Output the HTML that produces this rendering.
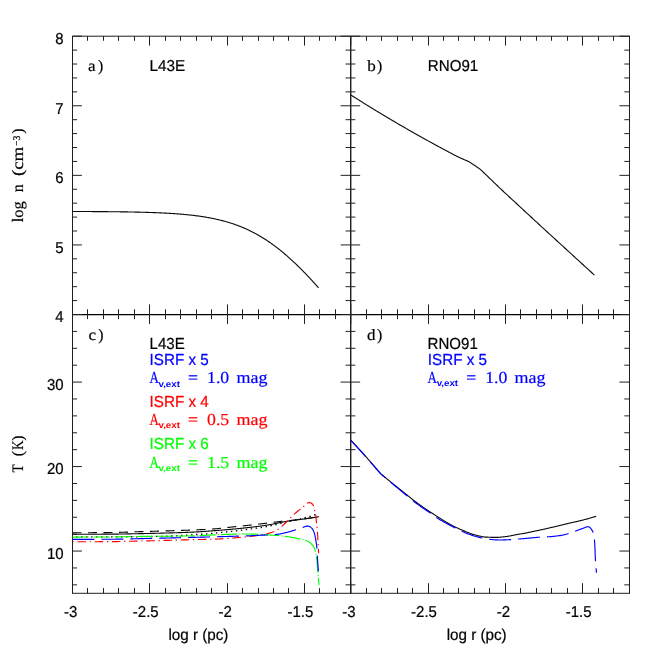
<!DOCTYPE html>
<html><head><meta charset="utf-8"><title>L43E / RNO91 density and temperature profiles</title>
<style>
html,body{margin:0;padding:0;background:#fff;}
body{width:664px;height:664px;overflow:hidden;font-family:"Liberation Sans",sans-serif;}
svg{display:block;will-change:transform;}
</style></head><body>
<svg width="664" height="664" viewBox="0 0 664 664" text-rendering="geometricPrecision">
<g stroke="#202020" stroke-width="1" fill="none" stroke-linecap="butt">
<rect x="72.5" y="36.2" width="557.0" height="557.0999999999999"/>
<line x1="350.75" y1="36.20" x2="350.75" y2="593.30" stroke="#000" stroke-width="1.25"/>
<line x1="72.50" y1="314.50" x2="629.50" y2="314.50" stroke="#000" stroke-width="1.25"/>
<line x1="72.50" y1="36.20" x2="72.50" y2="45.60"/>
<line x1="72.50" y1="304.40" x2="72.50" y2="323.90"/>
<line x1="72.50" y1="583.20" x2="72.50" y2="593.30"/>
<line x1="87.50" y1="36.20" x2="87.50" y2="40.80"/>
<line x1="87.50" y1="309.30" x2="87.50" y2="319.10"/>
<line x1="87.50" y1="588.10" x2="87.50" y2="593.30"/>
<line x1="103.50" y1="36.20" x2="103.50" y2="40.80"/>
<line x1="103.50" y1="309.30" x2="103.50" y2="319.10"/>
<line x1="103.50" y1="588.10" x2="103.50" y2="593.30"/>
<line x1="118.50" y1="36.20" x2="118.50" y2="40.80"/>
<line x1="118.50" y1="309.30" x2="118.50" y2="319.10"/>
<line x1="118.50" y1="588.10" x2="118.50" y2="593.30"/>
<line x1="134.50" y1="36.20" x2="134.50" y2="40.80"/>
<line x1="134.50" y1="309.30" x2="134.50" y2="319.10"/>
<line x1="134.50" y1="588.10" x2="134.50" y2="593.30"/>
<line x1="149.50" y1="36.20" x2="149.50" y2="45.60"/>
<line x1="149.50" y1="304.40" x2="149.50" y2="323.90"/>
<line x1="149.50" y1="583.20" x2="149.50" y2="593.30"/>
<line x1="165.50" y1="36.20" x2="165.50" y2="40.80"/>
<line x1="165.50" y1="309.30" x2="165.50" y2="319.10"/>
<line x1="165.50" y1="588.10" x2="165.50" y2="593.30"/>
<line x1="180.50" y1="36.20" x2="180.50" y2="40.80"/>
<line x1="180.50" y1="309.30" x2="180.50" y2="319.10"/>
<line x1="180.50" y1="588.10" x2="180.50" y2="593.30"/>
<line x1="196.50" y1="36.20" x2="196.50" y2="40.80"/>
<line x1="196.50" y1="309.30" x2="196.50" y2="319.10"/>
<line x1="196.50" y1="588.10" x2="196.50" y2="593.30"/>
<line x1="211.50" y1="36.20" x2="211.50" y2="40.80"/>
<line x1="211.50" y1="309.30" x2="211.50" y2="319.10"/>
<line x1="211.50" y1="588.10" x2="211.50" y2="593.30"/>
<line x1="227.50" y1="36.20" x2="227.50" y2="45.60"/>
<line x1="227.50" y1="304.40" x2="227.50" y2="323.90"/>
<line x1="227.50" y1="583.20" x2="227.50" y2="593.30"/>
<line x1="242.50" y1="36.20" x2="242.50" y2="40.80"/>
<line x1="242.50" y1="309.30" x2="242.50" y2="319.10"/>
<line x1="242.50" y1="588.10" x2="242.50" y2="593.30"/>
<line x1="258.50" y1="36.20" x2="258.50" y2="40.80"/>
<line x1="258.50" y1="309.30" x2="258.50" y2="319.10"/>
<line x1="258.50" y1="588.10" x2="258.50" y2="593.30"/>
<line x1="273.50" y1="36.20" x2="273.50" y2="40.80"/>
<line x1="273.50" y1="309.30" x2="273.50" y2="319.10"/>
<line x1="273.50" y1="588.10" x2="273.50" y2="593.30"/>
<line x1="288.50" y1="36.20" x2="288.50" y2="40.80"/>
<line x1="288.50" y1="309.30" x2="288.50" y2="319.10"/>
<line x1="288.50" y1="588.10" x2="288.50" y2="593.30"/>
<line x1="304.50" y1="36.20" x2="304.50" y2="45.60"/>
<line x1="304.50" y1="304.40" x2="304.50" y2="323.90"/>
<line x1="304.50" y1="583.20" x2="304.50" y2="593.30"/>
<line x1="319.50" y1="36.20" x2="319.50" y2="40.80"/>
<line x1="319.50" y1="309.30" x2="319.50" y2="319.10"/>
<line x1="319.50" y1="588.10" x2="319.50" y2="593.30"/>
<line x1="335.50" y1="36.20" x2="335.50" y2="40.80"/>
<line x1="335.50" y1="309.30" x2="335.50" y2="319.10"/>
<line x1="335.50" y1="588.10" x2="335.50" y2="593.30"/>
<line x1="350.50" y1="36.20" x2="350.50" y2="40.80"/>
<line x1="350.50" y1="309.30" x2="350.50" y2="319.10"/>
<line x1="350.50" y1="588.10" x2="350.50" y2="593.30"/>
<line x1="350.75" y1="36.20" x2="350.75" y2="45.60"/>
<line x1="350.75" y1="304.40" x2="350.75" y2="323.90"/>
<line x1="350.75" y1="583.20" x2="350.75" y2="593.30"/>
<line x1="366.50" y1="36.20" x2="366.50" y2="40.80"/>
<line x1="366.50" y1="309.30" x2="366.50" y2="319.10"/>
<line x1="366.50" y1="588.10" x2="366.50" y2="593.30"/>
<line x1="381.50" y1="36.20" x2="381.50" y2="40.80"/>
<line x1="381.50" y1="309.30" x2="381.50" y2="319.10"/>
<line x1="381.50" y1="588.10" x2="381.50" y2="593.30"/>
<line x1="397.50" y1="36.20" x2="397.50" y2="40.80"/>
<line x1="397.50" y1="309.30" x2="397.50" y2="319.10"/>
<line x1="397.50" y1="588.10" x2="397.50" y2="593.30"/>
<line x1="412.50" y1="36.20" x2="412.50" y2="40.80"/>
<line x1="412.50" y1="309.30" x2="412.50" y2="319.10"/>
<line x1="412.50" y1="588.10" x2="412.50" y2="593.30"/>
<line x1="428.50" y1="36.20" x2="428.50" y2="45.60"/>
<line x1="428.50" y1="304.40" x2="428.50" y2="323.90"/>
<line x1="428.50" y1="583.20" x2="428.50" y2="593.30"/>
<line x1="443.50" y1="36.20" x2="443.50" y2="40.80"/>
<line x1="443.50" y1="309.30" x2="443.50" y2="319.10"/>
<line x1="443.50" y1="588.10" x2="443.50" y2="593.30"/>
<line x1="458.50" y1="36.20" x2="458.50" y2="40.80"/>
<line x1="458.50" y1="309.30" x2="458.50" y2="319.10"/>
<line x1="458.50" y1="588.10" x2="458.50" y2="593.30"/>
<line x1="474.50" y1="36.20" x2="474.50" y2="40.80"/>
<line x1="474.50" y1="309.30" x2="474.50" y2="319.10"/>
<line x1="474.50" y1="588.10" x2="474.50" y2="593.30"/>
<line x1="489.50" y1="36.20" x2="489.50" y2="40.80"/>
<line x1="489.50" y1="309.30" x2="489.50" y2="319.10"/>
<line x1="489.50" y1="588.10" x2="489.50" y2="593.30"/>
<line x1="505.50" y1="36.20" x2="505.50" y2="45.60"/>
<line x1="505.50" y1="304.40" x2="505.50" y2="323.90"/>
<line x1="505.50" y1="583.20" x2="505.50" y2="593.30"/>
<line x1="520.50" y1="36.20" x2="520.50" y2="40.80"/>
<line x1="520.50" y1="309.30" x2="520.50" y2="319.10"/>
<line x1="520.50" y1="588.10" x2="520.50" y2="593.30"/>
<line x1="536.50" y1="36.20" x2="536.50" y2="40.80"/>
<line x1="536.50" y1="309.30" x2="536.50" y2="319.10"/>
<line x1="536.50" y1="588.10" x2="536.50" y2="593.30"/>
<line x1="551.50" y1="36.20" x2="551.50" y2="40.80"/>
<line x1="551.50" y1="309.30" x2="551.50" y2="319.10"/>
<line x1="551.50" y1="588.10" x2="551.50" y2="593.30"/>
<line x1="567.50" y1="36.20" x2="567.50" y2="40.80"/>
<line x1="567.50" y1="309.30" x2="567.50" y2="319.10"/>
<line x1="567.50" y1="588.10" x2="567.50" y2="593.30"/>
<line x1="582.50" y1="36.20" x2="582.50" y2="45.60"/>
<line x1="582.50" y1="304.40" x2="582.50" y2="323.90"/>
<line x1="582.50" y1="583.20" x2="582.50" y2="593.30"/>
<line x1="598.50" y1="36.20" x2="598.50" y2="40.80"/>
<line x1="598.50" y1="309.30" x2="598.50" y2="319.10"/>
<line x1="598.50" y1="588.10" x2="598.50" y2="593.30"/>
<line x1="613.50" y1="36.20" x2="613.50" y2="40.80"/>
<line x1="613.50" y1="309.30" x2="613.50" y2="319.10"/>
<line x1="613.50" y1="588.10" x2="613.50" y2="593.30"/>
<line x1="629.50" y1="36.20" x2="629.50" y2="40.80"/>
<line x1="629.50" y1="309.30" x2="629.50" y2="319.10"/>
<line x1="629.50" y1="588.10" x2="629.50" y2="593.30"/>
<line x1="72.50" y1="314.50" x2="81.90" y2="314.50"/>
<line x1="340.65" y1="314.50" x2="360.15" y2="314.50"/>
<line x1="619.40" y1="314.50" x2="629.50" y2="314.50"/>
<line x1="72.50" y1="300.58" x2="77.10" y2="300.58"/>
<line x1="345.55" y1="300.58" x2="355.35" y2="300.58"/>
<line x1="624.30" y1="300.58" x2="629.50" y2="300.58"/>
<line x1="72.50" y1="286.67" x2="77.10" y2="286.67"/>
<line x1="345.55" y1="286.67" x2="355.35" y2="286.67"/>
<line x1="624.30" y1="286.67" x2="629.50" y2="286.67"/>
<line x1="72.50" y1="272.75" x2="77.10" y2="272.75"/>
<line x1="345.55" y1="272.75" x2="355.35" y2="272.75"/>
<line x1="624.30" y1="272.75" x2="629.50" y2="272.75"/>
<line x1="72.50" y1="258.84" x2="77.10" y2="258.84"/>
<line x1="345.55" y1="258.84" x2="355.35" y2="258.84"/>
<line x1="624.30" y1="258.84" x2="629.50" y2="258.84"/>
<line x1="72.50" y1="244.93" x2="81.90" y2="244.93"/>
<line x1="340.65" y1="244.93" x2="360.15" y2="244.93"/>
<line x1="619.40" y1="244.93" x2="629.50" y2="244.93"/>
<line x1="72.50" y1="231.01" x2="77.10" y2="231.01"/>
<line x1="345.55" y1="231.01" x2="355.35" y2="231.01"/>
<line x1="624.30" y1="231.01" x2="629.50" y2="231.01"/>
<line x1="72.50" y1="217.09" x2="77.10" y2="217.09"/>
<line x1="345.55" y1="217.09" x2="355.35" y2="217.09"/>
<line x1="624.30" y1="217.09" x2="629.50" y2="217.09"/>
<line x1="72.50" y1="203.18" x2="77.10" y2="203.18"/>
<line x1="345.55" y1="203.18" x2="355.35" y2="203.18"/>
<line x1="624.30" y1="203.18" x2="629.50" y2="203.18"/>
<line x1="72.50" y1="189.26" x2="77.10" y2="189.26"/>
<line x1="345.55" y1="189.26" x2="355.35" y2="189.26"/>
<line x1="624.30" y1="189.26" x2="629.50" y2="189.26"/>
<line x1="72.50" y1="175.35" x2="81.90" y2="175.35"/>
<line x1="340.65" y1="175.35" x2="360.15" y2="175.35"/>
<line x1="619.40" y1="175.35" x2="629.50" y2="175.35"/>
<line x1="72.50" y1="161.43" x2="77.10" y2="161.43"/>
<line x1="345.55" y1="161.43" x2="355.35" y2="161.43"/>
<line x1="624.30" y1="161.43" x2="629.50" y2="161.43"/>
<line x1="72.50" y1="147.52" x2="77.10" y2="147.52"/>
<line x1="345.55" y1="147.52" x2="355.35" y2="147.52"/>
<line x1="624.30" y1="147.52" x2="629.50" y2="147.52"/>
<line x1="72.50" y1="133.60" x2="77.10" y2="133.60"/>
<line x1="345.55" y1="133.60" x2="355.35" y2="133.60"/>
<line x1="624.30" y1="133.60" x2="629.50" y2="133.60"/>
<line x1="72.50" y1="119.69" x2="77.10" y2="119.69"/>
<line x1="345.55" y1="119.69" x2="355.35" y2="119.69"/>
<line x1="624.30" y1="119.69" x2="629.50" y2="119.69"/>
<line x1="72.50" y1="105.77" x2="81.90" y2="105.77"/>
<line x1="340.65" y1="105.77" x2="360.15" y2="105.77"/>
<line x1="619.40" y1="105.77" x2="629.50" y2="105.77"/>
<line x1="72.50" y1="91.86" x2="77.10" y2="91.86"/>
<line x1="345.55" y1="91.86" x2="355.35" y2="91.86"/>
<line x1="624.30" y1="91.86" x2="629.50" y2="91.86"/>
<line x1="72.50" y1="77.94" x2="77.10" y2="77.94"/>
<line x1="345.55" y1="77.94" x2="355.35" y2="77.94"/>
<line x1="624.30" y1="77.94" x2="629.50" y2="77.94"/>
<line x1="72.50" y1="64.03" x2="77.10" y2="64.03"/>
<line x1="345.55" y1="64.03" x2="355.35" y2="64.03"/>
<line x1="624.30" y1="64.03" x2="629.50" y2="64.03"/>
<line x1="72.50" y1="50.11" x2="77.10" y2="50.11"/>
<line x1="345.55" y1="50.11" x2="355.35" y2="50.11"/>
<line x1="624.30" y1="50.11" x2="629.50" y2="50.11"/>
<line x1="72.50" y1="36.20" x2="81.90" y2="36.20"/>
<line x1="340.65" y1="36.20" x2="360.15" y2="36.20"/>
<line x1="619.40" y1="36.20" x2="629.50" y2="36.20"/>
<line x1="72.50" y1="584.85" x2="77.10" y2="584.85"/>
<line x1="345.55" y1="584.85" x2="355.35" y2="584.85"/>
<line x1="624.30" y1="584.85" x2="629.50" y2="584.85"/>
<line x1="72.50" y1="567.95" x2="77.10" y2="567.95"/>
<line x1="345.55" y1="567.95" x2="355.35" y2="567.95"/>
<line x1="624.30" y1="567.95" x2="629.50" y2="567.95"/>
<line x1="72.50" y1="551.06" x2="81.90" y2="551.06"/>
<line x1="340.65" y1="551.06" x2="360.15" y2="551.06"/>
<line x1="619.40" y1="551.06" x2="629.50" y2="551.06"/>
<line x1="72.50" y1="534.16" x2="77.10" y2="534.16"/>
<line x1="345.55" y1="534.16" x2="355.35" y2="534.16"/>
<line x1="624.30" y1="534.16" x2="629.50" y2="534.16"/>
<line x1="72.50" y1="517.26" x2="77.10" y2="517.26"/>
<line x1="345.55" y1="517.26" x2="355.35" y2="517.26"/>
<line x1="624.30" y1="517.26" x2="629.50" y2="517.26"/>
<line x1="72.50" y1="500.37" x2="77.10" y2="500.37"/>
<line x1="345.55" y1="500.37" x2="355.35" y2="500.37"/>
<line x1="624.30" y1="500.37" x2="629.50" y2="500.37"/>
<line x1="72.50" y1="483.47" x2="77.10" y2="483.47"/>
<line x1="345.55" y1="483.47" x2="355.35" y2="483.47"/>
<line x1="624.30" y1="483.47" x2="629.50" y2="483.47"/>
<line x1="72.50" y1="466.57" x2="81.90" y2="466.57"/>
<line x1="340.65" y1="466.57" x2="360.15" y2="466.57"/>
<line x1="619.40" y1="466.57" x2="629.50" y2="466.57"/>
<line x1="72.50" y1="449.68" x2="77.10" y2="449.68"/>
<line x1="345.55" y1="449.68" x2="355.35" y2="449.68"/>
<line x1="624.30" y1="449.68" x2="629.50" y2="449.68"/>
<line x1="72.50" y1="432.78" x2="77.10" y2="432.78"/>
<line x1="345.55" y1="432.78" x2="355.35" y2="432.78"/>
<line x1="624.30" y1="432.78" x2="629.50" y2="432.78"/>
<line x1="72.50" y1="415.88" x2="77.10" y2="415.88"/>
<line x1="345.55" y1="415.88" x2="355.35" y2="415.88"/>
<line x1="624.30" y1="415.88" x2="629.50" y2="415.88"/>
<line x1="72.50" y1="398.98" x2="77.10" y2="398.98"/>
<line x1="345.55" y1="398.98" x2="355.35" y2="398.98"/>
<line x1="624.30" y1="398.98" x2="629.50" y2="398.98"/>
<line x1="72.50" y1="382.09" x2="81.90" y2="382.09"/>
<line x1="340.65" y1="382.09" x2="360.15" y2="382.09"/>
<line x1="619.40" y1="382.09" x2="629.50" y2="382.09"/>
<line x1="72.50" y1="365.19" x2="77.10" y2="365.19"/>
<line x1="345.55" y1="365.19" x2="355.35" y2="365.19"/>
<line x1="624.30" y1="365.19" x2="629.50" y2="365.19"/>
<line x1="72.50" y1="348.29" x2="77.10" y2="348.29"/>
<line x1="345.55" y1="348.29" x2="355.35" y2="348.29"/>
<line x1="624.30" y1="348.29" x2="629.50" y2="348.29"/>
<line x1="72.50" y1="331.40" x2="77.10" y2="331.40"/>
<line x1="345.55" y1="331.40" x2="355.35" y2="331.40"/>
<line x1="624.30" y1="331.40" x2="629.50" y2="331.40"/>
<line x1="72.50" y1="314.50" x2="77.10" y2="314.50"/>
<line x1="345.55" y1="314.50" x2="355.35" y2="314.50"/>
<line x1="624.30" y1="314.50" x2="629.50" y2="314.50"/>
</g>
<path d="M72.50,211.49 L73.32,211.49 L74.15,211.49 L74.97,211.49 L75.79,211.50 L76.61,211.50 L77.44,211.50 L78.26,211.51 L79.08,211.51 L79.91,211.51 L80.73,211.51 L81.55,211.52 L82.37,211.52 L83.20,211.52 L84.02,211.53 L84.84,211.53 L85.66,211.54 L86.49,211.54 L87.31,211.54 L88.13,211.55 L88.96,211.55 L89.78,211.56 L90.60,211.56 L91.42,211.56 L92.25,211.57 L93.07,211.57 L93.89,211.58 L94.72,211.58 L95.54,211.59 L96.36,211.59 L97.18,211.60 L98.01,211.60 L98.83,211.61 L99.65,211.62 L100.48,211.62 L101.30,211.63 L102.12,211.63 L102.94,211.64 L103.77,211.65 L104.59,211.65 L105.41,211.66 L106.24,211.67 L107.06,211.68 L107.88,211.68 L108.70,211.69 L109.53,211.70 L110.35,211.71 L111.17,211.71 L111.99,211.72 L112.82,211.73 L113.64,211.74 L114.46,211.75 L115.29,211.76 L116.11,211.77 L116.93,211.78 L117.75,211.79 L118.58,211.80 L119.40,211.81 L120.22,211.82 L121.05,211.83 L121.87,211.84 L122.69,211.85 L123.51,211.87 L124.34,211.88 L125.16,211.89 L125.98,211.90 L126.81,211.92 L127.63,211.93 L128.45,211.94 L129.27,211.96 L130.10,211.97 L130.92,211.99 L131.74,212.00 L132.56,212.02 L133.39,212.04 L134.21,212.05 L135.03,212.07 L135.86,212.09 L136.68,212.11 L137.50,212.12 L138.32,212.14 L139.15,212.16 L139.97,212.18 L140.79,212.20 L141.62,212.22 L142.44,212.24 L143.26,212.27 L144.08,212.29 L144.91,212.31 L145.73,212.34 L146.55,212.36 L147.38,212.39 L148.20,212.41 L149.02,212.44 L149.84,212.46 L150.67,212.49 L151.49,212.52 L152.31,212.55 L153.14,212.58 L153.96,212.61 L154.78,212.64 L155.60,212.67 L156.43,212.70 L157.25,212.74 L158.07,212.77 L158.89,212.81 L159.72,212.84 L160.54,212.88 L161.36,212.92 L162.19,212.96 L163.01,213.00 L163.83,213.04 L164.65,213.08 L165.48,213.12 L166.30,213.17 L167.12,213.21 L167.95,213.26 L168.77,213.30 L169.59,213.35 L170.41,213.40 L171.24,213.45 L172.06,213.51 L172.88,213.56 L173.71,213.61 L174.53,213.67 L175.35,213.73 L176.17,213.79 L177.00,213.85 L177.82,213.91 L178.64,213.97 L179.46,214.04 L180.29,214.10 L181.11,214.17 L181.93,214.24 L182.76,214.31 L183.58,214.39 L184.40,214.46 L185.22,214.54 L186.05,214.62 L186.87,214.70 L187.69,214.78 L188.52,214.86 L189.34,214.95 L190.16,215.04 L190.98,215.13 L191.81,215.22 L192.63,215.31 L193.45,215.41 L194.28,215.51 L195.10,215.61 L195.92,215.72 L196.74,215.82 L197.57,215.93 L198.39,216.04 L199.21,216.16 L200.04,216.27 L200.86,216.39 L201.68,216.52 L202.50,216.64 L203.33,216.77 L204.15,216.90 L204.97,217.03 L205.79,217.17 L206.62,217.31 L207.44,217.45 L208.26,217.60 L209.09,217.75 L209.91,217.90 L210.73,218.06 L211.55,218.22 L212.38,218.38 L213.20,218.55 L214.02,218.72 L214.85,218.89 L215.67,219.07 L216.49,219.25 L217.31,219.44 L218.14,219.63 L218.96,219.82 L219.78,220.02 L220.61,220.22 L221.43,220.43 L222.25,220.64 L223.07,220.85 L223.90,221.07 L224.72,221.30 L225.54,221.53 L226.36,221.76 L227.19,222.00 L228.01,222.24 L228.83,222.49 L229.66,222.74 L230.48,223.00 L231.30,223.27 L232.12,223.53 L232.95,223.81 L233.77,224.09 L234.59,224.37 L235.42,224.66 L236.24,224.96 L237.06,225.26 L237.88,225.56 L238.71,225.88 L239.53,226.20 L240.35,226.52 L241.18,226.85 L242.00,227.19 L242.82,227.53 L243.64,227.88 L244.47,228.23 L245.29,228.59 L246.11,228.96 L246.94,229.33 L247.76,229.71 L248.58,230.10 L249.40,230.49 L250.23,230.89 L251.05,231.30 L251.87,231.71 L252.69,232.13 L253.52,232.56 L254.34,232.99 L255.16,233.43 L255.99,233.87 L256.81,234.33 L257.63,234.79 L258.45,235.26 L259.28,235.73 L260.10,236.21 L260.92,236.70 L261.75,237.20 L262.57,237.70 L263.39,238.21 L264.21,238.73 L265.04,239.25 L265.86,239.78 L266.68,240.32 L267.51,240.87 L268.33,241.42 L269.15,241.98 L269.97,242.55 L270.80,243.13 L271.62,243.71 L272.44,244.30 L273.26,244.89 L274.09,245.50 L274.91,246.11 L275.73,246.73 L276.56,247.35 L277.38,247.99 L278.20,248.63 L279.02,249.27 L279.85,249.93 L280.67,250.59 L281.49,251.26 L282.32,251.93 L283.14,252.61 L283.96,253.30 L284.78,254.00 L285.61,254.70 L286.43,255.41 L287.25,256.13 L288.08,256.85 L288.90,257.58 L289.72,258.31 L290.54,259.06 L291.37,259.81 L292.19,260.56 L293.01,261.32 L293.84,262.09 L294.66,262.87 L295.48,263.65 L296.30,264.44 L297.13,265.23 L297.95,266.03 L298.77,266.83 L299.59,267.64 L300.42,268.46 L301.24,269.28 L302.06,270.11 L302.89,270.95 L303.71,271.79 L304.53,272.63 L305.35,273.48 L306.18,274.34 L307.00,275.20 L307.82,276.07 L308.65,276.94 L309.47,277.82 L310.29,278.70 L311.11,279.59 L311.94,280.48 L312.76,281.38 L313.58,282.28 L314.41,283.18 L315.23,284.09 L316.05,285.01 L316.87,285.93 L317.70,286.85 L318.52,287.78" stroke="#0a0a0a" stroke-width="1.12" fill="none" stroke-linejoin="round"/>
<path d="M350.80,94.95 L351.45,95.36 L352.09,95.77 L352.74,96.18 L353.38,96.59 L354.03,97.00 L354.67,97.41 L355.32,97.82 L355.97,98.23 L356.61,98.63 L357.26,99.04 L357.91,99.45 L358.55,99.85 L359.20,100.26 L359.85,100.67 L360.50,101.07 L361.15,101.48 L361.79,101.88 L362.44,102.29 L363.09,102.69 L363.74,103.10 L364.39,103.50 L365.04,103.90 L365.69,104.31 L366.34,104.71 L366.99,105.11 L367.64,105.51 L368.29,105.92 L368.94,106.32 L369.59,106.72 L370.24,107.12 L370.89,107.52 L371.55,107.92 L372.20,108.32 L372.85,108.72 L373.50,109.12 L374.15,109.52 L374.81,109.92 L375.46,110.31 L376.11,110.71 L376.77,111.11 L377.42,111.51 L378.07,111.90 L378.73,112.30 L379.38,112.70 L380.03,113.09 L380.69,113.49 L381.34,113.88 L382.00,114.28 L382.65,114.67 L383.31,115.06 L383.96,115.46 L384.62,115.85 L385.28,116.24 L385.93,116.64 L386.59,117.03 L387.24,117.42 L387.90,117.81 L388.56,118.20 L389.22,118.59 L389.87,118.98 L390.53,119.37 L391.19,119.76 L391.85,120.15 L392.50,120.54 L393.16,120.93 L393.82,121.32 L394.48,121.71 L395.14,122.09 L395.80,122.48 L396.46,122.87 L397.12,123.25 L397.78,123.64 L398.44,124.03 L399.10,124.41 L399.76,124.80 L400.42,125.18 L401.08,125.56 L401.74,125.95 L402.41,126.33 L403.07,126.72 L403.73,127.10 L404.39,127.48 L405.05,127.86 L405.72,128.24 L406.38,128.63 L407.04,129.01 L407.70,129.39 L408.37,129.77 L409.03,130.15 L409.70,130.53 L410.36,130.90 L411.02,131.28 L411.69,131.66 L412.35,132.04 L413.02,132.42 L413.68,132.79 L414.35,133.17 L415.01,133.55 L415.68,133.92 L416.35,134.30 L417.01,134.67 L417.68,135.05 L418.34,135.42 L419.01,135.80 L419.68,136.17 L420.35,136.55 L421.01,136.92 L421.68,137.29 L422.35,137.66 L423.02,138.04 L423.68,138.41 L424.35,138.78 L425.02,139.15 L425.69,139.52 L426.36,139.89 L427.03,140.26 L427.70,140.63 L428.37,141.00 L429.04,141.37 L429.71,141.74 L430.38,142.11 L431.05,142.47 L431.72,142.84 L432.39,143.21 L433.06,143.58 L433.73,143.95 L434.40,144.31 L435.07,144.68 L435.74,145.04 L436.41,145.41 L437.08,145.78 L437.76,146.14 L438.43,146.51 L439.10,146.87 L439.77,147.23 L440.45,147.60 L441.12,147.96 L441.79,148.32 L442.47,148.68 L443.14,149.04 L443.81,149.40 L444.49,149.76 L445.16,150.12 L445.84,150.48 L446.51,150.84 L447.19,151.20 L447.87,151.55 L448.54,151.91 L449.22,152.27 L449.89,152.63 L450.57,152.99 L451.24,153.35 L451.92,153.71 L452.60,154.07 L453.27,154.42 L453.95,154.78 L454.63,155.13 L455.31,155.48 L455.99,155.83 L456.67,156.18 L457.35,156.52 L458.04,156.86 L458.73,157.19 L459.41,157.52 L460.10,157.85 L460.80,158.17 L461.50,158.48 L462.20,158.78 L462.90,159.08 L463.61,159.38 L464.31,159.67 L465.02,159.97 L465.72,160.27 L466.42,160.57 L467.12,160.88 L467.82,161.19 L468.52,161.51 L469.20,161.86 L469.84,162.27 L470.48,162.69 L471.12,163.11 L471.76,163.53 L472.40,163.95 L473.03,164.38 L473.67,164.80 L474.30,165.23 L474.94,165.66 L475.57,166.08 L476.20,166.51 L476.84,166.94 L477.47,167.37 L478.10,167.80 L478.74,168.22 L479.39,168.63 L480.00,169.08 L480.57,169.59 L481.12,170.13 L481.67,170.66 L482.23,171.18 L482.78,171.71 L483.34,172.23 L483.89,172.76 L484.44,173.29 L484.99,173.82 L485.55,174.35 L486.10,174.88 L486.65,175.41 L487.20,175.94 L487.75,176.47 L488.30,177.00 L488.85,177.53 L489.40,178.06 L489.95,178.60 L490.50,179.13 L491.05,179.66 L491.60,180.19 L492.15,180.72 L492.70,181.25 L493.25,181.79 L493.80,182.32 L494.35,182.85 L494.90,183.38 L495.45,183.91 L496.00,184.44 L496.55,184.97 L497.10,185.50 L497.66,186.02 L498.21,186.55 L498.76,187.08 L499.32,187.60 L499.87,188.13 L500.43,188.65 L500.99,189.18 L501.54,189.70 L502.10,190.23 L502.66,190.75 L503.22,191.27 L503.78,191.79 L504.33,192.31 L504.89,192.84 L505.45,193.36 L506.01,193.88 L506.57,194.40 L507.13,194.92 L507.70,195.44 L508.26,195.96 L508.82,196.48 L509.38,196.99 L509.94,197.51 L510.50,198.03 L511.06,198.55 L511.63,199.07 L512.19,199.59 L512.75,200.11 L513.31,200.62 L513.87,201.14 L514.44,201.66 L515.00,202.18 L515.56,202.70 L516.12,203.22 L516.68,203.73 L517.25,204.25 L517.81,204.77 L518.37,205.29 L518.93,205.81 L519.49,206.33 L520.05,206.85 L520.61,207.37 L521.17,207.89 L521.74,208.41 L522.30,208.93 L522.86,209.45 L523.42,209.97 L523.98,210.49 L524.54,211.01 L525.10,211.53 L525.66,212.05 L526.22,212.57 L526.78,213.09 L527.34,213.60 L527.90,214.12 L528.47,214.64 L529.03,215.16 L529.59,215.68 L530.15,216.20 L530.71,216.72 L531.27,217.24 L531.83,217.76 L532.39,218.28 L532.95,218.80 L533.52,219.32 L534.08,219.84 L534.64,220.36 L535.20,220.88 L535.76,221.39 L536.32,221.91 L536.89,222.43 L537.45,222.95 L538.01,223.47 L538.57,223.99 L539.13,224.50 L539.70,225.02 L540.26,225.54 L540.82,226.06 L541.39,226.57 L541.95,227.09 L542.51,227.61 L543.08,228.12 L543.64,228.64 L544.20,229.16 L544.77,229.67 L545.33,230.19 L545.89,230.71 L546.46,231.22 L547.02,231.74 L547.59,232.26 L548.15,232.77 L548.71,233.29 L549.28,233.80 L549.84,234.32 L550.41,234.83 L550.97,235.35 L551.54,235.87 L552.10,236.38 L552.67,236.90 L553.23,237.41 L553.79,237.93 L554.36,238.44 L554.92,238.96 L555.49,239.48 L556.05,239.99 L556.62,240.51 L557.18,241.02 L557.75,241.54 L558.31,242.05 L558.87,242.57 L559.44,243.09 L560.00,243.60 L560.57,244.12 L561.13,244.64 L561.70,245.15 L562.26,245.67 L562.82,246.18 L563.39,246.70 L563.95,247.22 L564.52,247.73 L565.08,248.25 L565.64,248.76 L566.21,249.28 L566.77,249.80 L567.34,250.31 L567.90,250.83 L568.47,251.34 L569.03,251.86 L569.59,252.38 L570.16,252.89 L570.72,253.41 L571.29,253.92 L571.85,254.44 L572.41,254.96 L572.98,255.47 L573.54,255.99 L574.11,256.50 L574.67,257.02 L575.23,257.54 L575.80,258.05 L576.36,258.57 L576.93,259.09 L577.49,259.60 L578.05,260.12 L578.62,260.63 L579.18,261.15 L579.75,261.67 L580.31,262.18 L580.87,262.70 L581.44,263.22 L582.00,263.73 L582.56,264.25 L583.13,264.77 L583.69,265.28 L584.26,265.80 L584.82,266.32 L585.38,266.83 L585.95,267.35 L586.51,267.87 L587.07,268.38 L587.64,268.90 L588.20,269.42 L588.77,269.93 L589.33,270.45 L589.89,270.97 L590.46,271.48 L591.02,272.00 L591.58,272.52 L592.15,273.03 L592.71,273.55 L593.27,274.07 L593.84,274.58 L594.40,275.10" stroke="#0a0a0a" stroke-width="1.12" fill="none" stroke-linejoin="round"/>
<path d="M72.50,534.25 L73.12,534.25 L73.74,534.25 L74.36,534.25 L74.98,534.25 L75.60,534.25 L76.22,534.25 L76.84,534.25 L77.46,534.25 L78.08,534.25 L78.70,534.25 L79.32,534.25 L79.94,534.25 L80.56,534.24 L81.18,534.24 L81.80,534.24 L82.42,534.24 L83.04,534.24 L83.67,534.24 L84.29,534.24 L84.91,534.24 L85.53,534.24 L86.15,534.23 L86.77,534.23 L87.39,534.23 L88.01,534.23 L88.63,534.23 L89.25,534.23 L89.87,534.23 L90.49,534.22 L91.11,534.22 L91.73,534.22 L92.35,534.22 L92.97,534.22 L93.59,534.22 L94.21,534.21 L94.83,534.21 L95.45,534.21 L96.07,534.21 L96.69,534.21 L97.31,534.20 L97.93,534.20 L98.55,534.20 L99.17,534.20 L99.79,534.19 L100.41,534.19 L101.03,534.19 L101.65,534.19 L102.27,534.18 L102.89,534.18 L103.51,534.18 L104.13,534.18 L104.75,534.17 L105.37,534.17 L105.99,534.17 L106.61,534.17 L107.23,534.16 L107.85,534.16 L108.47,534.16 L109.09,534.15 L109.71,534.15 L110.34,534.15 L110.96,534.14 L111.58,534.14 L112.20,534.14 L112.82,534.13 L113.44,534.13 L114.06,534.12 L114.68,534.11 L115.30,534.11 L115.92,534.10 L116.54,534.09 L117.16,534.08 L117.78,534.08 L118.40,534.07 L119.02,534.06 L119.64,534.05 L120.26,534.04 L120.88,534.03 L121.50,534.02 L122.12,534.01 L122.74,534.00 L123.36,533.99 L123.98,533.98 L124.60,533.96 L125.22,533.95 L125.84,533.94 L126.46,533.93 L127.08,533.92 L127.70,533.90 L128.32,533.89 L128.94,533.88 L129.56,533.87 L130.18,533.85 L130.80,533.84 L131.42,533.83 L132.04,533.81 L132.66,533.80 L133.28,533.79 L133.90,533.78 L134.52,533.76 L135.14,533.75 L135.76,533.74 L136.38,533.72 L137.00,533.71 L137.62,533.70 L138.24,533.69 L138.86,533.67 L139.48,533.66 L140.10,533.65 L140.72,533.64 L141.34,533.62 L141.96,533.61 L142.58,533.60 L143.20,533.58 L143.82,533.57 L144.44,533.56 L145.06,533.54 L145.68,533.53 L146.30,533.52 L146.92,533.50 L147.54,533.49 L148.16,533.48 L148.78,533.46 L149.40,533.45 L150.02,533.43 L150.64,533.42 L151.26,533.40 L151.88,533.39 L152.51,533.37 L153.13,533.36 L153.75,533.34 L154.37,533.33 L154.99,533.31 L155.61,533.30 L156.23,533.28 L156.85,533.27 L157.47,533.25 L158.09,533.23 L158.71,533.22 L159.33,533.20 L159.95,533.19 L160.57,533.17 L161.19,533.15 L161.81,533.14 L162.43,533.12 L163.05,533.10 L163.67,533.09 L164.29,533.07 L164.91,533.05 L165.53,533.04 L166.15,533.02 L166.77,533.00 L167.39,532.98 L168.01,532.97 L168.63,532.95 L169.25,532.93 L169.87,532.92 L170.49,532.90 L171.11,532.88 L171.73,532.87 L172.35,532.85 L172.97,532.83 L173.59,532.81 L174.21,532.80 L174.83,532.78 L175.45,532.76 L176.07,532.74 L176.69,532.72 L177.31,532.70 L177.93,532.68 L178.55,532.67 L179.17,532.65 L179.79,532.63 L180.41,532.61 L181.03,532.59 L181.65,532.57 L182.27,532.54 L182.89,532.52 L183.51,532.50 L184.13,532.48 L184.75,532.46 L185.37,532.43 L185.99,532.41 L186.61,532.39 L187.23,532.36 L187.84,532.34 L188.46,532.31 L189.08,532.29 L189.70,532.26 L190.32,532.24 L190.94,532.21 L191.56,532.18 L192.18,532.15 L192.80,532.12 L193.42,532.09 L194.04,532.06 L194.66,532.03 L195.28,531.99 L195.90,531.96 L196.52,531.92 L197.14,531.89 L197.75,531.85 L198.37,531.82 L198.99,531.78 L199.61,531.74 L200.23,531.70 L200.85,531.66 L201.47,531.62 L202.09,531.58 L202.71,531.54 L203.33,531.50 L203.95,531.46 L204.56,531.42 L205.18,531.37 L205.80,531.33 L206.42,531.29 L207.04,531.24 L207.66,531.20 L208.28,531.15 L208.90,531.11 L209.52,531.06 L210.13,531.01 L210.75,530.97 L211.37,530.92 L211.99,530.87 L212.61,530.83 L213.23,530.78 L213.85,530.73 L214.46,530.68 L215.08,530.64 L215.70,530.59 L216.32,530.54 L216.94,530.49 L217.56,530.44 L218.17,530.39 L218.79,530.35 L219.41,530.30 L220.03,530.25 L220.65,530.20 L221.26,530.15 L221.88,530.10 L222.50,530.05 L223.12,530.00 L223.74,529.95 L224.36,529.89 L224.97,529.84 L225.59,529.79 L226.21,529.74 L226.83,529.68 L227.45,529.63 L228.06,529.57 L228.68,529.52 L229.30,529.46 L229.92,529.41 L230.54,529.35 L231.15,529.29 L231.77,529.24 L232.39,529.18 L233.01,529.12 L233.62,529.06 L234.24,529.00 L234.86,528.94 L235.48,528.89 L236.09,528.82 L236.71,528.76 L237.33,528.70 L237.95,528.64 L238.56,528.58 L239.18,528.52 L239.80,528.45 L240.41,528.39 L241.03,528.33 L241.65,528.26 L242.27,528.20 L242.88,528.13 L243.50,528.07 L244.12,528.00 L244.73,527.93 L245.35,527.87 L245.97,527.80 L246.58,527.73 L247.20,527.66 L247.82,527.60 L248.43,527.53 L249.05,527.46 L249.66,527.39 L250.28,527.32 L250.90,527.25 L251.51,527.18 L252.13,527.11 L252.74,527.03 L253.36,526.96 L253.98,526.89 L254.59,526.81 L255.21,526.74 L255.83,526.67 L256.44,526.59 L257.06,526.51 L257.67,526.44 L258.29,526.36 L258.91,526.28 L259.52,526.20 L260.14,526.12 L260.75,526.04 L261.37,525.95 L261.98,525.87 L262.60,525.78 L263.21,525.70 L263.82,525.61 L264.44,525.52 L265.05,525.43 L265.67,525.34 L266.28,525.25 L266.89,525.15 L267.50,525.06 L268.12,524.96 L268.73,524.86 L269.34,524.76 L269.95,524.66 L270.56,524.55 L271.17,524.44 L271.78,524.32 L272.38,524.20 L272.99,524.07 L273.60,523.94 L274.20,523.80 L274.81,523.67 L275.41,523.53 L276.02,523.39 L276.62,523.26 L277.23,523.12 L277.84,522.99 L278.44,522.86 L279.05,522.74 L279.66,522.61 L280.27,522.50 L280.88,522.39 L281.49,522.27 L282.10,522.16 L282.71,522.05 L283.32,521.95 L283.93,521.84 L284.54,521.73 L285.15,521.63 L285.77,521.53 L286.38,521.42 L286.99,521.32 L287.60,521.23 L288.22,521.13 L288.83,521.03 L289.44,520.94 L290.05,520.84 L290.67,520.75 L291.28,520.66 L291.89,520.57 L292.51,520.48 L293.12,520.40 L293.74,520.31 L294.35,520.23 L294.97,520.14 L295.58,520.06 L296.20,519.98 L296.81,519.90 L297.43,519.81 L298.04,519.73 L298.66,519.65 L299.27,519.57 L299.88,519.48 L300.50,519.40 L301.11,519.32 L301.73,519.24 L302.35,519.16 L302.96,519.09 L303.58,519.01 L304.19,518.93 L304.81,518.85 L305.42,518.77 L306.04,518.69 L306.65,518.61 L307.27,518.52 L307.88,518.44 L308.49,518.35 L309.11,518.26 L309.72,518.17 L310.33,518.08 L310.95,517.99 L311.56,517.89 L312.17,517.80 L312.79,517.70 L313.40,517.60 L314.01,517.50 L314.62,517.40 L315.23,517.29 L315.85,517.19 L316.46,517.08 L317.07,516.98 L317.68,516.87 L318.29,516.76 L318.90,516.65" stroke="#0a0a0a" stroke-width="1.12" fill="none" stroke-linejoin="round"/>
<path d="M72.50,532.75 L73.12,532.75 L73.74,532.75 L74.36,532.75 L74.98,532.75 L75.60,532.75 L76.22,532.75 L76.84,532.75 L77.46,532.75 L78.08,532.74 L78.70,532.74 L79.32,532.74 L79.94,532.74 L80.56,532.74 L81.18,532.74 L81.80,532.74 L82.41,532.73 L83.03,532.73 L83.65,532.73 L84.27,532.73 L84.89,532.72 L85.51,532.72 L86.13,532.72 L86.75,532.72 L87.37,532.71 L87.99,532.71 L88.61,532.71 L89.23,532.70 L89.85,532.70 L90.47,532.70 L91.09,532.69 L91.71,532.69 L92.33,532.69 L92.95,532.68 L93.57,532.68 L94.19,532.68 L94.81,532.67 L95.43,532.67 L96.05,532.66 L96.67,532.66 L97.28,532.66 L97.90,532.65 L98.52,532.65 L99.14,532.64 L99.76,532.64 L100.38,532.63 L101.00,532.63 L101.62,532.62 L102.24,532.62 L102.86,532.61 L103.48,532.61 L104.10,532.60 L104.72,532.60 L105.34,532.59 L105.96,532.59 L106.58,532.58 L107.20,532.58 L107.82,532.57 L108.44,532.56 L109.05,532.56 L109.67,532.55 L110.29,532.55 L110.91,532.54 L111.53,532.53 L112.15,532.52 L112.77,532.51 L113.39,532.50 L114.01,532.49 L114.63,532.48 L115.25,532.47 L115.87,532.45 L116.49,532.44 L117.11,532.42 L117.73,532.40 L118.35,532.39 L118.96,532.37 L119.58,532.35 L120.20,532.33 L120.82,532.31 L121.44,532.29 L122.06,532.27 L122.68,532.25 L123.30,532.23 L123.92,532.21 L124.54,532.19 L125.16,532.17 L125.78,532.15 L126.40,532.12 L127.02,532.10 L127.63,532.08 L128.25,532.06 L128.87,532.03 L129.49,532.01 L130.11,531.99 L130.73,531.96 L131.35,531.94 L131.97,531.92 L132.59,531.90 L133.21,531.87 L133.83,531.85 L134.45,531.83 L135.07,531.81 L135.68,531.79 L136.30,531.77 L136.92,531.75 L137.54,531.73 L138.16,531.71 L138.78,531.69 L139.40,531.67 L140.02,531.65 L140.64,531.63 L141.26,531.61 L141.88,531.60 L142.50,531.58 L143.12,531.56 L143.74,531.54 L144.36,531.53 L144.97,531.51 L145.59,531.49 L146.21,531.48 L146.83,531.46 L147.45,531.44 L148.07,531.43 L148.69,531.41 L149.31,531.39 L149.93,531.38 L150.55,531.36 L151.17,531.34 L151.79,531.33 L152.41,531.31 L153.03,531.29 L153.65,531.28 L154.26,531.26 L154.88,531.24 L155.50,531.23 L156.12,531.21 L156.74,531.19 L157.36,531.17 L157.98,531.16 L158.60,531.14 L159.22,531.12 L159.84,531.10 L160.46,531.09 L161.08,531.07 L161.70,531.05 L162.32,531.03 L162.94,531.01 L163.55,530.99 L164.17,530.98 L164.79,530.96 L165.41,530.94 L166.03,530.92 L166.65,530.90 L167.27,530.88 L167.89,530.86 L168.51,530.84 L169.13,530.82 L169.75,530.80 L170.37,530.78 L170.99,530.76 L171.61,530.74 L172.22,530.72 L172.84,530.70 L173.46,530.68 L174.08,530.66 L174.70,530.64 L175.32,530.62 L175.94,530.60 L176.56,530.58 L177.18,530.56 L177.80,530.54 L178.42,530.52 L179.04,530.50 L179.66,530.48 L180.28,530.46 L180.89,530.44 L181.51,530.41 L182.13,530.39 L182.75,530.37 L183.37,530.35 L183.99,530.33 L184.61,530.31 L185.23,530.28 L185.85,530.26 L186.47,530.24 L187.09,530.22 L187.71,530.19 L188.33,530.17 L188.94,530.15 L189.56,530.12 L190.18,530.10 L190.80,530.07 L191.42,530.05 L192.04,530.03 L192.66,530.00 L193.28,529.98 L193.90,529.95 L194.52,529.93 L195.14,529.90 L195.75,529.87 L196.37,529.85 L196.99,529.82 L197.61,529.79 L198.23,529.77 L198.85,529.74 L199.47,529.71 L200.09,529.68 L200.71,529.65 L201.32,529.63 L201.94,529.60 L202.56,529.57 L203.18,529.54 L203.80,529.51 L204.42,529.48 L205.04,529.44 L205.66,529.41 L206.28,529.38 L206.89,529.35 L207.51,529.31 L208.13,529.28 L208.75,529.24 L209.37,529.21 L209.99,529.17 L210.61,529.13 L211.23,529.10 L211.84,529.06 L212.46,529.02 L213.08,528.97 L213.70,528.93 L214.32,528.89 L214.93,528.84 L215.55,528.80 L216.17,528.75 L216.79,528.70 L217.40,528.65 L218.02,528.60 L218.64,528.54 L219.25,528.48 L219.87,528.42 L220.48,528.35 L221.10,528.28 L221.72,528.21 L222.33,528.14 L222.95,528.07 L223.56,528.00 L224.18,527.93 L224.79,527.85 L225.41,527.78 L226.02,527.70 L226.64,527.63 L227.25,527.55 L227.87,527.48 L228.49,527.40 L229.10,527.33 L229.72,527.26 L230.33,527.19 L230.95,527.12 L231.56,527.05 L232.18,526.99 L232.80,526.92 L233.41,526.86 L234.03,526.79 L234.65,526.73 L235.26,526.66 L235.88,526.60 L236.49,526.54 L237.11,526.47 L237.73,526.41 L238.34,526.35 L238.96,526.28 L239.58,526.22 L240.19,526.16 L240.81,526.09 L241.42,526.03 L242.04,525.97 L242.66,525.90 L243.27,525.84 L243.89,525.77 L244.51,525.71 L245.12,525.64 L245.74,525.58 L246.35,525.51 L246.97,525.44 L247.59,525.37 L248.20,525.31 L248.82,525.24 L249.43,525.17 L250.05,525.10 L250.66,525.03 L251.28,524.96 L251.90,524.89 L252.51,524.82 L253.13,524.75 L253.74,524.68 L254.36,524.60 L254.97,524.53 L255.59,524.46 L256.20,524.39 L256.82,524.32 L257.43,524.24 L258.05,524.17 L258.66,524.10 L259.28,524.03 L259.90,523.95 L260.51,523.88 L261.13,523.81 L261.74,523.73 L262.36,523.66 L262.97,523.59 L263.59,523.51 L264.20,523.44 L264.82,523.37 L265.43,523.29 L266.05,523.22 L266.66,523.15 L267.28,523.07 L267.89,523.00 L268.51,522.93 L269.12,522.85 L269.74,522.78 L270.35,522.71 L270.97,522.63 L271.58,522.56 L272.20,522.48 L272.81,522.41 L273.43,522.33 L274.04,522.25 L274.66,522.18 L275.27,522.10 L275.89,522.02 L276.50,521.95 L277.12,521.87 L277.73,521.79 L278.35,521.72 L278.96,521.65 L279.58,521.57 L280.19,521.50 L280.81,521.43 L281.43,521.36 L282.04,521.30 L282.66,521.23 L283.27,521.17 L283.89,521.11 L284.51,521.06 L285.12,521.00 L285.74,520.94 L286.36,520.89 L286.98,520.84 L287.59,520.78 L288.21,520.72 L288.83,520.67 L289.44,520.61 L290.06,520.54 L290.68,520.48 L291.29,520.41 L291.91,520.35 L292.52,520.28 L293.14,520.21 L293.76,520.14 L294.37,520.06 L294.99,519.99 L295.60,519.92 L296.22,519.84 L296.83,519.77 L297.45,519.69 L298.06,519.62 L298.68,519.54 L299.29,519.46 L299.91,519.39 L300.52,519.31 L301.14,519.23 L301.75,519.16 L302.37,519.08 L302.98,519.00 L303.59,518.92 L304.21,518.84 L304.82,518.76 L305.44,518.68 L306.05,518.59 L306.67,518.51 L307.28,518.43 L307.89,518.34 L308.51,518.25 L309.12,518.16 L309.73,518.07 L310.34,517.98 L310.96,517.89 L311.57,517.79 L312.18,517.69 L312.79,517.60 L313.40,517.50 L314.02,517.40 L314.63,517.30 L315.24,517.19 L315.85,517.09 L316.46,516.98 L317.07,516.88 L317.68,516.77 L318.29,516.66 L318.90,516.55" stroke="#0a0a0a" stroke-width="1.12" fill="none" stroke-linejoin="round" stroke-dasharray="9 6.5" stroke-dashoffset="0"/>
<path d="M72.50,536.95 L73.12,536.95 L73.75,536.95 L74.37,536.95 L74.99,536.95 L75.61,536.95 L76.24,536.95 L76.86,536.95 L77.48,536.95 L78.11,536.94 L78.73,536.94 L79.35,536.94 L79.97,536.94 L80.60,536.94 L81.22,536.94 L81.84,536.94 L82.47,536.94 L83.09,536.94 L83.71,536.94 L84.33,536.93 L84.96,536.93 L85.58,536.93 L86.20,536.93 L86.83,536.93 L87.45,536.93 L88.07,536.92 L88.69,536.92 L89.32,536.92 L89.94,536.92 L90.56,536.92 L91.19,536.92 L91.81,536.91 L92.43,536.91 L93.05,536.91 L93.68,536.91 L94.30,536.91 L94.92,536.90 L95.55,536.90 L96.17,536.90 L96.79,536.90 L97.41,536.90 L98.04,536.89 L98.66,536.89 L99.28,536.89 L99.91,536.89 L100.53,536.89 L101.15,536.88 L101.77,536.88 L102.40,536.88 L103.02,536.88 L103.64,536.87 L104.27,536.87 L104.89,536.87 L105.51,536.87 L106.13,536.86 L106.76,536.86 L107.38,536.86 L108.00,536.86 L108.63,536.86 L109.25,536.85 L109.87,536.85 L110.49,536.85 L111.12,536.85 L111.74,536.84 L112.36,536.84 L112.99,536.84 L113.61,536.83 L114.23,536.83 L114.85,536.83 L115.48,536.83 L116.10,536.82 L116.72,536.82 L117.35,536.82 L117.97,536.81 L118.59,536.81 L119.21,536.81 L119.84,536.80 L120.46,536.80 L121.08,536.80 L121.70,536.79 L122.33,536.79 L122.95,536.78 L123.57,536.78 L124.20,536.78 L124.82,536.77 L125.44,536.77 L126.06,536.76 L126.69,536.76 L127.31,536.76 L127.93,536.75 L128.56,536.75 L129.18,536.74 L129.80,536.74 L130.42,536.73 L131.05,536.73 L131.67,536.72 L132.29,536.72 L132.92,536.71 L133.54,536.71 L134.16,536.70 L134.78,536.70 L135.41,536.69 L136.03,536.69 L136.65,536.68 L137.28,536.68 L137.90,536.67 L138.52,536.66 L139.14,536.66 L139.77,536.65 L140.39,536.65 L141.01,536.64 L141.64,536.63 L142.26,536.63 L142.88,536.62 L143.50,536.61 L144.13,536.61 L144.75,536.60 L145.37,536.59 L146.00,536.58 L146.62,536.58 L147.24,536.57 L147.86,536.56 L148.49,536.55 L149.11,536.54 L149.73,536.53 L150.36,536.53 L150.98,536.52 L151.60,536.51 L152.22,536.50 L152.85,536.49 L153.47,536.48 L154.09,536.47 L154.71,536.46 L155.34,536.45 L155.96,536.44 L156.58,536.42 L157.21,536.41 L157.83,536.40 L158.45,536.39 L159.07,536.38 L159.70,536.36 L160.32,536.35 L160.94,536.34 L161.56,536.33 L162.19,536.31 L162.81,536.30 L163.43,536.29 L164.06,536.27 L164.68,536.26 L165.30,536.24 L165.92,536.23 L166.55,536.21 L167.17,536.19 L167.79,536.17 L168.41,536.15 L169.04,536.13 L169.66,536.11 L170.28,536.09 L170.90,536.07 L171.53,536.04 L172.15,536.02 L172.77,535.99 L173.39,535.97 L174.02,535.94 L174.64,535.91 L175.26,535.88 L175.88,535.86 L176.50,535.83 L177.13,535.80 L177.75,535.76 L178.37,535.73 L178.99,535.69 L179.61,535.65 L180.23,535.61 L180.86,535.57 L181.48,535.53 L182.10,535.49 L182.72,535.45 L183.34,535.41 L183.96,535.36 L184.58,535.32 L185.21,535.27 L185.83,535.23 L186.45,535.18 L187.07,535.14 L187.69,535.09 L188.31,535.05 L188.93,535.00 L189.56,534.96 L190.18,534.92 L190.80,534.87 L191.42,534.83 L192.04,534.79 L192.66,534.75 L193.28,534.71 L193.91,534.68 L194.53,534.64 L195.15,534.61 L195.77,534.57 L196.39,534.54 L197.02,534.51 L197.64,534.47 L198.26,534.44 L198.88,534.41 L199.51,534.38 L200.13,534.35 L200.75,534.31 L201.37,534.28 L201.99,534.25 L202.62,534.21 L203.24,534.18 L203.86,534.14 L204.48,534.10 L205.10,534.06 L205.72,534.02 L206.35,533.98 L206.97,533.94 L207.59,533.89 L208.21,533.84 L208.83,533.79 L209.45,533.73 L210.07,533.67 L210.69,533.61 L211.30,533.54 L211.92,533.47 L212.54,533.39 L213.16,533.32 L213.78,533.25 L214.40,533.17 L215.02,533.09 L215.64,533.02 L216.25,532.95 L216.87,532.87 L217.49,532.80 L218.11,532.74 L218.73,532.67 L219.35,532.61 L219.97,532.55 L220.59,532.48 L221.21,532.42 L221.83,532.36 L222.45,532.30 L223.07,532.24 L223.69,532.18 L224.31,532.12 L224.93,532.05 L225.55,531.99 L226.17,531.93 L226.79,531.87 L227.41,531.80 L228.03,531.74 L228.65,531.67 L229.27,531.61 L229.89,531.54 L230.50,531.48 L231.12,531.41 L231.74,531.34 L232.36,531.28 L232.98,531.21 L233.60,531.14 L234.22,531.07 L234.84,531.00 L235.46,530.93 L236.08,530.86 L236.70,530.79 L237.31,530.72 L237.93,530.65 L238.55,530.57 L239.17,530.50 L239.79,530.42 L240.40,530.34 L241.02,530.26 L241.64,530.18 L242.26,530.10 L242.88,530.02 L243.49,529.94 L244.11,529.85 L244.73,529.77 L245.34,529.69 L245.96,529.60 L246.58,529.52 L247.20,529.43 L247.81,529.35 L248.43,529.26 L249.05,529.18 L249.66,529.10 L250.28,529.01 L250.90,528.93 L251.52,528.84 L252.13,528.76 L252.75,528.68 L253.37,528.59 L253.99,528.51 L254.60,528.42 L255.22,528.34 L255.84,528.25 L256.46,528.16 L257.07,528.08 L257.69,527.99 L258.31,527.90 L258.92,527.81 L259.54,527.72 L260.15,527.63 L260.77,527.53 L261.39,527.44 L262.00,527.34 L262.62,527.24 L263.23,527.14 L263.84,527.04 L264.46,526.94 L265.07,526.84 L265.68,526.73 L266.30,526.62 L266.91,526.51 L267.52,526.40 L268.13,526.28 L268.75,526.16 L269.36,526.04 L269.97,525.92 L270.58,525.79 L271.19,525.67 L271.80,525.54 L272.41,525.41 L273.02,525.28 L273.63,525.15 L274.24,525.02 L274.84,524.88 L275.45,524.75 L276.06,524.61 L276.66,524.47 L277.27,524.32 L277.88,524.18 L278.48,524.03 L279.08,523.87 L279.69,523.72 L280.29,523.57 L280.90,523.42 L281.50,523.27 L282.10,523.11 L282.71,522.96 L283.31,522.82 L283.92,522.67 L284.53,522.52 L285.13,522.38 L285.74,522.24 L286.34,522.10 L286.95,521.95 L287.56,521.81 L288.16,521.67 L288.77,521.53 L289.38,521.39 L289.99,521.25 L290.59,521.12 L291.20,520.98 L291.81,520.85 L292.42,520.71 L293.03,520.58 L293.64,520.45 L294.25,520.32 L294.85,520.19 L295.46,520.06 L296.07,519.92 L296.68,519.79 L297.29,519.65 L297.89,519.51 L298.50,519.37 L299.11,519.22 L299.71,519.07 L300.31,518.92 L300.91,518.75 L301.51,518.59 L302.11,518.42 L302.71,518.25 L303.31,518.08 L303.91,517.91 L304.51,517.74 L305.11,517.58 L305.72,517.42 L306.32,517.27 L306.93,517.13 L307.54,516.99 L308.15,516.86 L308.76,516.73 L309.36,516.59 L309.97,516.45 L310.57,516.30 L311.17,516.13 L311.76,515.94 L312.35,515.73 L312.93,515.50 L313.51,515.28 L314.09,515.05 L314.68,514.85 L315.28,514.67 L315.87,514.50 L316.47,514.33 L317.08,514.17 L317.68,514.02 L318.29,513.88 L318.90,513.75" stroke="#0a0a0a" stroke-width="1.4" fill="none" stroke-linejoin="round" stroke-dasharray="1.4 3.6" stroke-dashoffset="1.4"/>
<path d="M72.50,537.05 L73.21,537.05 L73.92,537.05 L74.63,537.05 L75.33,537.05 L76.04,537.05 L76.75,537.05 L77.46,537.05 L78.17,537.05 L78.88,537.05 L79.59,537.05 L80.30,537.04 L81.00,537.04 L81.71,537.04 L82.42,537.04 L83.13,537.04 L83.84,537.04 L84.55,537.04 L85.26,537.04 L85.97,537.04 L86.67,537.03 L87.38,537.03 L88.09,537.03 L88.80,537.03 L89.51,537.03 L90.22,537.02 L90.93,537.02 L91.63,537.02 L92.34,537.02 L93.05,537.02 L93.76,537.01 L94.47,537.01 L95.18,537.01 L95.89,537.01 L96.60,537.01 L97.30,537.00 L98.01,537.00 L98.72,537.00 L99.43,537.00 L100.14,536.99 L100.85,536.99 L101.56,536.99 L102.26,536.98 L102.97,536.98 L103.68,536.98 L104.39,536.98 L105.10,536.97 L105.81,536.97 L106.52,536.97 L107.22,536.96 L107.93,536.96 L108.64,536.96 L109.35,536.95 L110.06,536.95 L110.77,536.95 L111.48,536.94 L112.19,536.94 L112.89,536.93 L113.60,536.92 L114.31,536.91 L115.02,536.91 L115.73,536.90 L116.44,536.89 L117.15,536.88 L117.85,536.86 L118.56,536.85 L119.27,536.84 L119.98,536.83 L120.69,536.82 L121.40,536.80 L122.11,536.79 L122.81,536.77 L123.52,536.76 L124.23,536.75 L124.94,536.73 L125.65,536.72 L126.36,536.70 L127.07,536.69 L127.77,536.67 L128.48,536.66 L129.19,536.64 L129.90,536.63 L130.61,536.61 L131.32,536.60 L132.03,536.58 L132.73,536.57 L133.44,536.56 L134.15,536.54 L134.86,536.53 L135.57,536.52 L136.28,536.51 L136.99,536.49 L137.69,536.48 L138.40,536.47 L139.11,536.46 L139.82,536.45 L140.53,536.44 L141.24,536.43 L141.95,536.43 L142.65,536.42 L143.36,536.41 L144.07,536.40 L144.78,536.39 L145.49,536.39 L146.20,536.38 L146.91,536.37 L147.61,536.37 L148.32,536.36 L149.03,536.35 L149.74,536.35 L150.45,536.34 L151.16,536.33 L151.87,536.33 L152.58,536.32 L153.28,536.32 L153.99,536.31 L154.70,536.30 L155.41,536.30 L156.12,536.29 L156.83,536.29 L157.54,536.28 L158.25,536.28 L158.95,536.27 L159.66,536.27 L160.37,536.26 L161.08,536.26 L161.79,536.25 L162.50,536.25 L163.21,536.24 L163.92,536.24 L164.62,536.23 L165.33,536.22 L166.04,536.22 L166.75,536.21 L167.46,536.21 L168.17,536.20 L168.88,536.20 L169.59,536.19 L170.29,536.19 L171.00,536.18 L171.71,536.17 L172.42,536.17 L173.13,536.16 L173.84,536.15 L174.55,536.15 L175.25,536.14 L175.96,536.13 L176.67,536.13 L177.38,536.12 L178.09,536.11 L178.80,536.10 L179.51,536.10 L180.21,536.09 L180.92,536.08 L181.63,536.07 L182.34,536.06 L183.05,536.05 L183.76,536.04 L184.47,536.04 L185.17,536.03 L185.88,536.02 L186.59,536.00 L187.30,535.99 L188.01,535.98 L188.72,535.97 L189.42,535.96 L190.13,535.95 L190.84,535.93 L191.55,535.92 L192.26,535.90 L192.97,535.88 L193.67,535.86 L194.38,535.84 L195.09,535.81 L195.80,535.79 L196.51,535.76 L197.21,535.73 L197.92,535.70 L198.63,535.67 L199.34,535.64 L200.05,535.61 L200.75,535.58 L201.46,535.54 L202.17,535.51 L202.88,535.47 L203.59,535.44 L204.29,535.40 L205.00,535.36 L205.71,535.33 L206.42,535.29 L207.12,535.25 L207.83,535.21 L208.54,535.18 L209.25,535.14 L209.96,535.10 L210.66,535.06 L211.37,535.03 L212.08,534.99 L212.79,534.96 L213.50,534.92 L214.20,534.89 L214.91,534.86 L215.62,534.82 L216.33,534.79 L217.04,534.76 L217.74,534.73 L218.45,534.71 L219.16,534.68 L219.87,534.65 L220.58,534.63 L221.29,534.61 L221.99,534.58 L222.70,534.55 L223.41,534.53 L224.12,534.50 L224.83,534.48 L225.53,534.45 L226.24,534.42 L226.95,534.40 L227.66,534.37 L228.37,534.34 L229.08,534.32 L229.79,534.29 L230.49,534.26 L231.20,534.24 L231.91,534.21 L232.62,534.19 L233.33,534.17 L234.04,534.14 L234.74,534.12 L235.45,534.10 L236.16,534.08 L236.87,534.06 L237.58,534.05 L238.29,534.03 L238.99,534.01 L239.70,534.00 L240.41,533.99 L241.12,533.98 L241.83,533.97 L242.54,533.96 L243.25,533.96 L243.95,533.95 L244.66,533.95 L245.37,533.95 L246.08,533.95 L246.79,533.96 L247.50,533.97 L248.21,533.98 L248.91,533.99 L249.62,534.01 L250.33,534.02 L251.04,534.04 L251.75,534.06 L252.46,534.08 L253.17,534.10 L253.87,534.12 L254.58,534.14 L255.29,534.16 L256.00,534.18 L256.71,534.21 L257.41,534.24 L258.12,534.28 L258.83,534.31 L259.54,534.35 L260.25,534.39 L260.95,534.43 L261.66,534.47 L262.37,534.51 L263.08,534.55 L263.78,534.60 L264.49,534.65 L265.20,534.70 L265.90,534.75 L266.61,534.80 L267.32,534.86 L268.02,534.91 L268.73,534.96 L269.44,535.01 L270.14,535.06 L270.85,535.10 L271.56,535.15 L272.27,535.19 L272.98,535.23 L273.68,535.26 L274.39,535.30 L275.10,535.34 L275.81,535.38 L276.52,535.42 L277.22,535.46 L277.93,535.51 L278.64,535.56 L279.34,535.61 L280.05,535.67 L280.75,535.74 L281.46,535.81 L282.16,535.88 L282.86,535.97 L283.57,536.05 L284.27,536.15 L284.97,536.24 L285.68,536.34 L286.38,536.45 L287.08,536.55 L287.78,536.66 L288.48,536.77 L289.18,536.88 L289.88,537.00 L290.58,537.11 L291.27,537.24 L291.97,537.37 L292.67,537.50 L293.36,537.64 L294.06,537.78 L294.75,537.92 L295.44,538.07 L296.14,538.22 L296.83,538.38 L297.52,538.53 L298.22,538.68 L298.91,538.84 L299.60,538.99 L300.30,539.14 L301.00,539.29 L301.70,539.44 L302.41,539.58 L303.11,539.74 L303.81,539.90 L304.49,540.08 L305.17,540.27 L305.82,540.48 L306.46,540.71 L307.10,540.99 L307.75,541.30 L308.38,541.66 L309.01,542.05 L309.61,542.46 L310.20,542.90 L310.75,543.35 L311.26,543.82 L311.74,544.29 L312.19,544.81 L312.63,545.36 L313.05,545.95 L313.45,546.56 L313.81,547.20 L314.15,547.84 L314.45,548.48 L314.71,549.12 L314.94,549.78 L315.16,550.45 L315.37,551.14 L315.55,551.83 L315.72,552.53 L315.87,553.23 L316.01,553.92 L316.14,554.61 L316.26,555.31 L316.37,556.01 L316.48,556.71 L316.58,557.42 L316.67,558.12 L316.76,558.83 L316.83,559.53 L316.91,560.24 L316.98,560.94 L317.04,561.64 L317.10,562.35 L317.16,563.06 L317.21,563.76 L317.26,564.47 L317.31,565.18 L317.36,565.88 L317.40,566.59 L317.45,567.30 L317.50,568.01 L317.55,568.71 L317.60,569.42 L317.66,570.13 L317.72,570.83 L317.78,571.54 L317.84,572.25 L317.90,572.95 L317.96,573.66 L318.03,574.36 L318.10,575.07 L318.16,575.78 L318.23,576.48 L318.29,577.19 L318.36,577.89 L318.42,578.60 L318.49,579.30 L318.55,580.01 L318.62,580.72 L318.68,581.42 L318.74,582.13 L318.81,582.83 L318.87,583.54 L318.94,584.24 L319.00,584.95" stroke="#00ff00" stroke-width="1.15" fill="none" stroke-linejoin="round" stroke-dasharray="16.1 2.3 1.1 1.7" stroke-dashoffset="0"/>
<path d="M72.50,541.75 L73.26,541.75 L74.01,541.75 L74.77,541.75 L75.52,541.75 L76.28,541.75 L77.03,541.75 L77.79,541.75 L78.55,541.75 L79.30,541.75 L80.06,541.75 L80.81,541.74 L81.57,541.74 L82.33,541.74 L83.08,541.74 L83.84,541.74 L84.59,541.74 L85.35,541.74 L86.10,541.74 L86.86,541.73 L87.62,541.73 L88.37,541.73 L89.13,541.73 L89.88,541.73 L90.64,541.72 L91.39,541.72 L92.15,541.72 L92.91,541.72 L93.66,541.72 L94.42,541.71 L95.17,541.71 L95.93,541.71 L96.68,541.71 L97.44,541.70 L98.20,541.70 L98.95,541.70 L99.71,541.69 L100.46,541.69 L101.22,541.69 L101.97,541.69 L102.73,541.68 L103.49,541.68 L104.24,541.68 L105.00,541.67 L105.75,541.67 L106.51,541.67 L107.26,541.66 L108.02,541.66 L108.78,541.66 L109.53,541.65 L110.29,541.65 L111.04,541.64 L111.80,541.64 L112.55,541.63 L113.31,541.62 L114.07,541.62 L114.82,541.61 L115.58,541.60 L116.33,541.59 L117.09,541.57 L117.84,541.56 L118.60,541.55 L119.35,541.53 L120.11,541.52 L120.87,541.51 L121.62,541.49 L122.38,541.47 L123.13,541.46 L123.89,541.44 L124.64,541.42 L125.40,541.41 L126.16,541.39 L126.91,541.37 L127.67,541.35 L128.42,541.33 L129.18,541.31 L129.93,541.30 L130.69,541.28 L131.44,541.26 L132.20,541.24 L132.96,541.22 L133.71,541.20 L134.47,541.18 L135.22,541.16 L135.98,541.14 L136.73,541.13 L137.49,541.11 L138.24,541.09 L139.00,541.07 L139.76,541.06 L140.51,541.04 L141.27,541.02 L142.02,541.00 L142.78,540.99 L143.53,540.97 L144.29,540.95 L145.04,540.93 L145.80,540.92 L146.56,540.90 L147.31,540.88 L148.07,540.86 L148.82,540.84 L149.58,540.82 L150.33,540.80 L151.09,540.79 L151.84,540.77 L152.60,540.75 L153.35,540.73 L154.11,540.71 L154.87,540.69 L155.62,540.67 L156.38,540.65 L157.13,540.63 L157.89,540.61 L158.64,540.59 L159.40,540.57 L160.15,540.55 L160.91,540.53 L161.67,540.51 L162.42,540.49 L163.18,540.47 L163.93,540.45 L164.69,540.43 L165.44,540.41 L166.20,540.39 L166.95,540.37 L167.71,540.35 L168.46,540.33 L169.22,540.31 L169.98,540.29 L170.73,540.27 L171.49,540.25 L172.24,540.23 L173.00,540.21 L173.75,540.19 L174.51,540.16 L175.26,540.14 L176.02,540.12 L176.77,540.10 L177.53,540.08 L178.29,540.06 L179.04,540.04 L179.80,540.02 L180.55,540.00 L181.31,539.98 L182.06,539.96 L182.82,539.94 L183.57,539.92 L184.33,539.90 L185.08,539.88 L185.84,539.86 L186.60,539.84 L187.35,539.82 L188.11,539.80 L188.86,539.78 L189.62,539.76 L190.37,539.74 L191.13,539.72 L191.88,539.70 L192.64,539.68 L193.40,539.67 L194.15,539.65 L194.91,539.63 L195.66,539.61 L196.42,539.60 L197.17,539.58 L197.93,539.56 L198.69,539.55 L199.44,539.53 L200.20,539.52 L200.95,539.50 L201.71,539.48 L202.46,539.47 L203.22,539.45 L203.98,539.43 L204.73,539.41 L205.49,539.40 L206.24,539.38 L207.00,539.36 L207.75,539.34 L208.51,539.32 L209.27,539.30 L210.02,539.28 L210.78,539.26 L211.53,539.24 L212.29,539.21 L213.04,539.19 L213.80,539.16 L214.55,539.14 L215.31,539.11 L216.06,539.09 L216.82,539.06 L217.57,539.03 L218.32,539.00 L219.08,538.96 L219.83,538.92 L220.59,538.89 L221.34,538.85 L222.10,538.80 L222.85,538.76 L223.61,538.71 L224.36,538.66 L225.11,538.61 L225.87,538.56 L226.62,538.51 L227.38,538.46 L228.13,538.40 L228.88,538.34 L229.64,538.28 L230.39,538.23 L231.14,538.16 L231.90,538.10 L232.65,538.04 L233.41,537.98 L234.16,537.91 L234.91,537.85 L235.67,537.79 L236.42,537.72 L237.17,537.65 L237.93,537.59 L238.68,537.52 L239.43,537.45 L240.18,537.39 L240.94,537.32 L241.69,537.25 L242.44,537.19 L243.20,537.12 L243.95,537.05 L244.70,536.99 L245.45,536.92 L246.21,536.85 L246.96,536.78 L247.71,536.71 L248.46,536.63 L249.22,536.55 L249.97,536.47 L250.72,536.38 L251.47,536.29 L252.22,536.20 L252.97,536.11 L253.72,536.01 L254.47,535.91 L255.22,535.81 L255.97,535.70 L256.71,535.59 L257.46,535.48 L258.21,535.37 L258.96,535.25 L259.70,535.13 L260.45,535.00 L261.19,534.87 L261.94,534.74 L262.68,534.61 L263.42,534.47 L264.16,534.33 L264.90,534.18 L265.65,534.02 L266.38,533.86 L267.12,533.69 L267.86,533.51 L268.59,533.33 L269.32,533.14 L270.05,532.94 L270.78,532.73 L271.50,532.51 L272.23,532.28 L272.95,532.03 L273.66,531.77 L274.36,531.49 L275.04,531.19 L275.70,530.85 L276.35,530.48 L277.00,530.07 L277.63,529.65 L278.26,529.20 L278.87,528.75 L279.48,528.30 L280.07,527.84 L280.66,527.37 L281.23,526.88 L281.80,526.38 L282.36,525.87 L282.92,525.35 L283.47,524.83 L284.02,524.31 L284.56,523.78 L285.10,523.26 L285.64,522.73 L286.18,522.19 L286.70,521.65 L287.23,521.11 L287.75,520.57 L288.28,520.02 L288.80,519.48 L289.33,518.93 L289.86,518.39 L290.39,517.85 L290.92,517.31 L291.44,516.77 L291.97,516.23 L292.51,515.69 L293.05,515.17 L293.60,514.65 L294.16,514.15 L294.73,513.66 L295.31,513.17 L295.89,512.69 L296.48,512.22 L297.07,511.74 L297.67,511.27 L298.26,510.81 L298.85,510.34 L299.44,509.86 L300.03,509.39 L300.62,508.91 L301.21,508.44 L301.80,507.96 L302.39,507.49 L302.97,507.00 L303.54,506.51 L304.08,505.97 L304.59,505.39 L305.10,504.80 L305.63,504.26 L306.20,503.81 L306.83,503.43 L307.53,503.06 L308.26,502.75 L308.98,502.57 L309.71,502.59 L310.46,502.80 L311.19,503.14 L311.79,503.51 L312.32,504.01 L312.80,504.63 L313.21,505.33 L313.52,506.01 L313.77,506.70 L313.98,507.42 L314.16,508.16 L314.32,508.91 L314.49,509.66 L314.66,510.40 L314.84,511.14 L315.02,511.87 L315.20,512.61 L315.36,513.35 L315.51,514.09 L315.63,514.83 L315.73,515.58 L315.82,516.33 L315.91,517.08 L315.99,517.83 L316.06,518.58 L316.13,519.33 L316.20,520.09 L316.27,520.84 L316.35,521.60 L316.42,522.35 L316.51,523.10 L316.60,523.85 L316.69,524.60 L316.79,525.35 L316.88,526.10 L316.96,526.85 L317.03,527.60 L317.10,528.36 L317.17,529.11 L317.23,529.86 L317.29,530.61 L317.35,531.37 L317.41,532.12 L317.46,532.88 L317.52,533.63 L317.57,534.38 L317.62,535.14 L317.67,535.89 L317.72,536.65 L317.77,537.40 L317.81,538.16 L317.86,538.91 L317.91,539.66 L317.95,540.42 L318.00,541.17 L318.04,541.93 L318.08,542.68 L318.13,543.44 L318.17,544.19 L318.21,544.95 L318.25,545.70 L318.29,546.45 L318.33,547.21 L318.36,547.96 L318.40,548.72 L318.44,549.47 L318.47,550.23 L318.51,550.98 L318.54,551.74 L318.57,552.49 L318.60,553.25" stroke="#ff0000" stroke-width="1.15" fill="none" stroke-linejoin="round" stroke-dasharray="1.3 3.7 8.5 3.7" stroke-dashoffset="0"/>
<path d="M72.50,539.35 L73.07,539.35 L73.64,539.35 L74.21,539.35 L74.79,539.35 L75.36,539.35 L75.93,539.35 L76.50,539.35 L77.07,539.35 L77.64,539.35 L78.21,539.35 L78.79,539.35 L79.36,539.35 L79.93,539.35 L80.50,539.34 L81.07,539.34 L81.64,539.34 L82.21,539.34 L82.79,539.34 L83.36,539.34 L83.93,539.34 L84.50,539.34 L85.07,539.34 L85.64,539.34 L86.21,539.34 L86.79,539.33 L87.36,539.33 L87.93,539.33 L88.50,539.33 L89.07,539.33 L89.64,539.33 L90.21,539.33 L90.78,539.32 L91.36,539.32 L91.93,539.32 L92.50,539.32 L93.07,539.32 L93.64,539.32 L94.21,539.31 L94.78,539.31 L95.36,539.31 L95.93,539.31 L96.50,539.31 L97.07,539.30 L97.64,539.30 L98.21,539.30 L98.78,539.30 L99.36,539.30 L99.93,539.29 L100.50,539.29 L101.07,539.29 L101.64,539.29 L102.21,539.28 L102.78,539.28 L103.35,539.28 L103.93,539.28 L104.50,539.28 L105.07,539.27 L105.64,539.27 L106.21,539.27 L106.78,539.27 L107.35,539.26 L107.93,539.26 L108.50,539.26 L109.07,539.25 L109.64,539.25 L110.21,539.25 L110.78,539.25 L111.35,539.24 L111.92,539.24 L112.50,539.23 L113.07,539.23 L113.64,539.22 L114.21,539.21 L114.78,539.21 L115.35,539.20 L115.92,539.19 L116.49,539.18 L117.07,539.17 L117.64,539.16 L118.21,539.15 L118.78,539.14 L119.35,539.13 L119.92,539.12 L120.49,539.11 L121.06,539.10 L121.64,539.09 L122.21,539.08 L122.78,539.06 L123.35,539.05 L123.92,539.04 L124.49,539.02 L125.06,539.01 L125.63,539.00 L126.21,538.98 L126.78,538.97 L127.35,538.96 L127.92,538.94 L128.49,538.93 L129.06,538.91 L129.63,538.90 L130.20,538.89 L130.78,538.87 L131.35,538.86 L131.92,538.84 L132.49,538.83 L133.06,538.81 L133.63,538.80 L134.20,538.79 L134.77,538.77 L135.35,538.76 L135.92,538.74 L136.49,538.73 L137.06,538.72 L137.63,538.70 L138.20,538.69 L138.77,538.68 L139.34,538.66 L139.92,538.65 L140.49,538.64 L141.06,538.63 L141.63,538.61 L142.20,538.60 L142.77,538.59 L143.34,538.58 L143.91,538.56 L144.49,538.55 L145.06,538.54 L145.63,538.53 L146.20,538.51 L146.77,538.50 L147.34,538.49 L147.91,538.47 L148.48,538.46 L149.06,538.45 L149.63,538.44 L150.20,538.42 L150.77,538.41 L151.34,538.40 L151.91,538.38 L152.48,538.37 L153.05,538.36 L153.62,538.34 L154.20,538.33 L154.77,538.32 L155.34,538.30 L155.91,538.29 L156.48,538.28 L157.05,538.26 L157.62,538.25 L158.19,538.24 L158.77,538.22 L159.34,538.21 L159.91,538.20 L160.48,538.18 L161.05,538.17 L161.62,538.15 L162.19,538.14 L162.76,538.13 L163.34,538.11 L163.91,538.10 L164.48,538.09 L165.05,538.07 L165.62,538.06 L166.19,538.04 L166.76,538.03 L167.33,538.02 L167.91,538.00 L168.48,537.99 L169.05,537.97 L169.62,537.96 L170.19,537.95 L170.76,537.93 L171.33,537.92 L171.90,537.90 L172.47,537.89 L173.05,537.88 L173.62,537.86 L174.19,537.85 L174.76,537.83 L175.33,537.82 L175.90,537.81 L176.47,537.79 L177.04,537.78 L177.62,537.76 L178.19,537.75 L178.76,537.73 L179.33,537.72 L179.90,537.71 L180.47,537.69 L181.04,537.68 L181.61,537.66 L182.19,537.65 L182.76,537.63 L183.33,537.62 L183.90,537.60 L184.47,537.59 L185.04,537.58 L185.61,537.56 L186.18,537.55 L186.75,537.53 L187.33,537.52 L187.90,537.50 L188.47,537.49 L189.04,537.47 L189.61,537.46 L190.18,537.45 L190.75,537.43 L191.32,537.42 L191.90,537.40 L192.47,537.39 L193.04,537.37 L193.61,537.36 L194.18,537.34 L194.75,537.33 L195.32,537.31 L195.89,537.30 L196.46,537.28 L197.04,537.27 L197.61,537.25 L198.18,537.24 L198.75,537.23 L199.32,537.21 L199.89,537.20 L200.46,537.18 L201.03,537.17 L201.61,537.15 L202.18,537.14 L202.75,537.12 L203.32,537.11 L203.89,537.09 L204.46,537.08 L205.03,537.06 L205.60,537.04 L206.17,537.03 L206.75,537.01 L207.32,537.00 L207.89,536.98 L208.46,536.97 L209.03,536.95 L209.60,536.94 L210.17,536.92 L210.74,536.91 L211.32,536.89 L211.89,536.88 L212.46,536.86 L213.03,536.84 L213.60,536.83 L214.17,536.81 L214.74,536.80 L215.31,536.78 L215.88,536.77 L216.46,536.75 L217.03,536.73 L217.60,536.72 L218.17,536.70 L218.74,536.69 L219.31,536.67 L219.88,536.65 L220.45,536.64 L221.02,536.62 L221.60,536.61 L222.17,536.59 L222.74,536.57 L223.31,536.56 L223.88,536.54 L224.45,536.53 L225.02,536.51 L225.59,536.50 L226.17,536.48 L226.74,536.46 L227.31,536.45 L227.88,536.43 L228.45,536.42 L229.02,536.40 L229.59,536.39 L230.16,536.37 L230.73,536.35 L231.31,536.34 L231.88,536.32 L232.45,536.31 L233.02,536.29 L233.59,536.27 L234.16,536.26 L234.73,536.24 L235.30,536.23 L235.88,536.21 L236.45,536.19 L237.02,536.18 L237.59,536.16 L238.16,536.14 L238.73,536.13 L239.30,536.11 L239.87,536.09 L240.44,536.07 L241.02,536.06 L241.59,536.04 L242.16,536.02 L242.73,536.00 L243.30,535.98 L243.87,535.96 L244.44,535.95 L245.01,535.93 L245.58,535.91 L246.15,535.89 L246.73,535.87 L247.30,535.85 L247.87,535.83 L248.44,535.81 L249.01,535.79 L249.58,535.77 L250.15,535.74 L250.72,535.72 L251.29,535.70 L251.86,535.68 L252.43,535.65 L253.01,535.63 L253.58,535.60 L254.15,535.58 L254.72,535.55 L255.29,535.52 L255.86,535.49 L256.43,535.47 L257.00,535.44 L257.57,535.41 L258.14,535.38 L258.71,535.36 L259.28,535.33 L259.85,535.30 L260.43,535.27 L261.00,535.24 L261.57,535.22 L262.14,535.19 L262.71,535.16 L263.28,535.14 L263.85,535.11 L264.42,535.09 L264.99,535.07 L265.56,535.04 L266.13,535.02 L266.71,535.00 L267.28,534.98 L267.85,534.96 L268.42,534.94 L268.99,534.91 L269.56,534.89 L270.13,534.86 L270.70,534.84 L271.28,534.81 L271.85,534.78 L272.42,534.75 L272.98,534.72 L273.55,534.68 L274.12,534.64 L274.69,534.60 L275.26,534.54 L275.83,534.49 L276.40,534.42 L276.97,534.35 L277.54,534.28 L278.10,534.20 L278.67,534.12 L279.23,534.04 L279.80,533.95 L280.36,533.86 L280.92,533.76 L281.48,533.66 L282.04,533.54 L282.60,533.43 L283.16,533.30 L283.71,533.17 L284.27,533.04 L284.83,532.91 L285.38,532.77 L285.94,532.62 L286.49,532.48 L287.04,532.33 L287.60,532.19 L288.15,532.04 L288.70,531.89 L289.25,531.74 L289.81,531.59 L290.36,531.44 L290.91,531.29 L291.46,531.13 L292.00,530.97 L292.55,530.80 L293.10,530.63 L293.64,530.47 L294.19,530.29 L294.73,530.12 L295.28,529.95 L295.82,529.78 L296.37,529.61 L296.91,529.43 L297.46,529.25 L298.00,529.08 L298.54,528.90 L299.08,528.71 L299.62,528.53 L300.17,528.35 L300.71,528.16 L301.25,527.98 L301.79,527.79 L302.33,527.61 L302.86,527.41 L303.40,527.20 L303.93,527.00 L304.47,526.81 L305.02,526.65 L305.57,526.48 L306.13,526.32 L306.69,526.18 L307.25,526.08 L307.81,526.05 L308.37,526.13 L308.93,526.30 L309.47,526.51 L309.99,526.75 L310.49,527.02 L310.96,527.36 L311.40,527.74" stroke="#0000ff" stroke-width="1.15" fill="none" stroke-linejoin="round" stroke-dasharray="21.9 7.0" stroke-dashoffset="0"/>
<path d="M311.40,527.74 L311.77,528.15 L312.12,528.59 L312.44,529.06 L312.74,529.56 L313.02,530.08 L313.28,530.60 L313.53,531.11 L313.76,531.63 L313.97,532.16 L314.17,532.70 L314.35,533.25 L314.51,533.79 L314.66,534.34 L314.79,534.89 L314.92,535.45 L315.04,536.01 L315.16,536.57 L315.27,537.13 L315.38,537.70 L315.48,538.26 L315.58,538.82 L315.67,539.39 L315.77,539.95 L315.86,540.52 L315.95,541.08 L316.05,541.64 L316.14,542.21 L316.23,542.77 L316.32,543.34 L316.41,543.90 L316.49,544.47 L316.57,545.04 L316.64,545.60 L316.71,546.17 L316.78,546.74 L316.84,547.31 L316.89,547.87 L316.93,548.44 L316.97,549.01 L317.00,549.58 L317.04,550.15 L317.07,550.72 L317.10,551.29 L317.12,551.86 L317.15,552.43 L317.18,553.01 L317.20,553.58 L317.23,554.15 L317.26,554.72 L317.30,555.29 L317.33,555.86 L317.37,556.43 L317.40,557.00 L317.44,557.57 L317.47,558.14 L317.51,558.71 L317.54,559.28 L317.58,559.85 L317.62,560.42 L317.66,560.99 L317.69,561.56 L317.73,562.13 L317.77,562.70 L317.81,563.27 L317.85,563.84 L317.89,564.41 L317.93,564.98 L317.97,565.55 L318.01,566.12 L318.05,566.69 L318.10,567.26 L318.14,567.83 L318.18,568.40 L318.22,568.97 L318.27,569.54 L318.31,570.11 L318.36,570.68 L318.40,571.25" stroke="#0000ff" stroke-width="1.15" fill="none" stroke-linejoin="round" stroke-dasharray="21.9 7.0" stroke-dashoffset="0"/>
<path d="M350.80,440.30 L351.29,440.81 L351.77,441.32 L352.26,441.84 L352.74,442.35 L353.23,442.86 L353.71,443.38 L354.19,443.89 L354.68,444.41 L355.16,444.93 L355.64,445.44 L356.12,445.96 L356.60,446.48 L357.08,446.99 L357.56,447.51 L358.04,448.03 L358.52,448.55 L359.00,449.07 L359.48,449.59 L359.95,450.11 L360.43,450.63 L360.91,451.15 L361.38,451.67 L361.86,452.19 L362.33,452.72 L362.81,453.24 L363.28,453.76 L363.75,454.29 L364.23,454.81 L364.70,455.34 L365.17,455.86 L365.64,456.39 L366.11,456.91 L366.58,457.44 L367.05,457.97 L367.52,458.50 L367.98,459.03 L368.45,459.56 L368.91,460.09 L369.37,460.62 L369.83,461.16 L370.29,461.69 L370.75,462.23 L371.21,462.76 L371.67,463.30 L372.13,463.84 L372.59,464.37 L373.05,464.91 L373.51,465.45 L373.97,465.98 L374.43,466.52 L374.89,467.05 L375.35,467.59 L375.81,468.12 L376.27,468.66 L376.74,469.19 L377.20,469.72 L377.67,470.25 L378.13,470.78 L378.60,471.31 L379.07,471.84 L379.54,472.37 L380.00,472.90 L380.48,473.43 L380.98,473.92 L381.52,474.37 L382.07,474.81 L382.62,475.26 L383.16,475.72 L383.70,476.17 L384.24,476.62 L384.78,477.07 L385.33,477.53 L385.87,477.98 L386.41,478.43 L386.95,478.88 L387.49,479.34 L388.04,479.79 L388.58,480.24 L389.13,480.69 L389.67,481.13 L390.22,481.58 L390.76,482.03 L391.31,482.47 L391.86,482.92 L392.41,483.36 L392.96,483.81 L393.51,484.25 L394.06,484.69 L394.61,485.13 L395.16,485.57 L395.71,486.01 L396.26,486.45 L396.82,486.89 L397.37,487.33 L397.92,487.77 L398.47,488.21 L399.03,488.65 L399.58,489.09 L400.13,489.53 L400.69,489.97 L401.24,490.41 L401.79,490.84 L402.35,491.28 L402.90,491.72 L403.45,492.16 L404.00,492.60 L404.55,493.04 L405.11,493.48 L405.66,493.93 L406.21,494.37 L406.76,494.81 L407.30,495.26 L407.85,495.70 L408.40,496.14 L408.95,496.59 L409.50,497.03 L410.05,497.47 L410.61,497.91 L411.16,498.35 L411.71,498.79 L412.27,499.22 L412.83,499.65 L413.39,500.08 L413.95,500.51 L414.51,500.94 L415.07,501.37 L415.63,501.80 L416.19,502.23 L416.76,502.65 L417.33,503.07 L417.89,503.49 L418.46,503.91 L419.03,504.33 L419.60,504.74 L420.18,505.16 L420.75,505.56 L421.33,505.97 L421.90,506.38 L422.48,506.78 L423.06,507.18 L423.64,507.59 L424.22,507.99 L424.81,508.38 L425.39,508.78 L425.97,509.18 L426.56,509.57 L427.15,509.97 L427.73,510.36 L428.32,510.75 L428.91,511.14 L429.50,511.53 L430.09,511.92 L430.68,512.30 L431.27,512.69 L431.87,513.07 L432.46,513.46 L433.05,513.84 L433.65,514.22 L434.24,514.60 L434.84,514.98 L435.43,515.36 L436.03,515.74 L436.62,516.12 L437.22,516.49 L437.82,516.87 L438.41,517.25 L439.01,517.63 L439.61,518.01 L440.20,518.39 L440.80,518.77 L441.40,519.15 L442.00,519.52 L442.60,519.90 L443.20,520.27 L443.80,520.65 L444.40,521.02 L445.00,521.39 L445.61,521.76 L446.21,522.12 L446.82,522.48 L447.43,522.84 L448.04,523.20 L448.65,523.55 L449.26,523.90 L449.88,524.24 L450.49,524.58 L451.11,524.92 L451.73,525.25 L452.35,525.58 L452.98,525.90 L453.61,526.22 L454.24,526.53 L454.87,526.84 L455.51,527.15 L456.14,527.46 L456.78,527.76 L457.42,528.06 L458.07,528.35 L458.71,528.64 L459.36,528.93 L460.01,529.22 L460.65,529.50 L461.30,529.78 L461.95,530.06 L462.61,530.33 L463.26,530.60 L463.91,530.86 L464.56,531.13 L465.22,531.40 L465.87,531.66 L466.53,531.93 L467.19,532.20 L467.84,532.46 L468.50,532.72 L469.16,532.98 L469.83,533.23 L470.49,533.48 L471.16,533.72 L471.82,533.95 L472.49,534.18 L473.16,534.39 L473.84,534.60 L474.51,534.79 L475.19,534.97 L475.87,535.14 L476.55,535.32 L477.23,535.49 L477.92,535.67 L478.61,535.84 L479.30,536.00 L479.99,536.17 L480.69,536.32 L481.38,536.46 L482.08,536.60 L482.78,536.72 L483.48,536.83 L484.18,536.93 L484.88,537.00 L485.58,537.07 L486.28,537.11 L486.98,537.15 L487.68,537.18 L488.38,537.21 L489.09,537.25 L489.79,537.27 L490.50,537.30 L491.21,537.33 L491.92,537.35 L492.62,537.36 L493.33,537.38 L494.04,537.39 L494.75,537.40 L495.45,537.40 L496.16,537.40 L496.86,537.38 L497.57,537.36 L498.27,537.32 L498.98,537.28 L499.68,537.23 L500.39,537.17 L501.09,537.10 L501.79,537.03 L502.50,536.96 L503.20,536.88 L503.91,536.80 L504.61,536.71 L505.31,536.63 L506.01,536.54 L506.71,536.46 L507.41,536.37 L508.10,536.28 L508.80,536.17 L509.50,536.06 L510.19,535.93 L510.88,535.80 L511.57,535.66 L512.27,535.51 L512.96,535.37 L513.65,535.22 L514.34,535.07 L515.03,534.92 L515.73,534.78 L516.42,534.64 L517.11,534.51 L517.81,534.38 L518.50,534.26 L519.20,534.15 L519.90,534.04 L520.60,533.93 L521.29,533.82 L521.99,533.71 L522.69,533.59 L523.39,533.48 L524.08,533.36 L524.78,533.24 L525.47,533.11 L526.16,532.98 L526.86,532.84 L527.55,532.70 L528.24,532.56 L528.93,532.42 L529.62,532.27 L530.31,532.12 L531.00,531.97 L531.69,531.82 L532.38,531.67 L533.07,531.52 L533.76,531.37 L534.45,531.22 L535.14,531.07 L535.83,530.92 L536.52,530.78 L537.21,530.63 L537.90,530.48 L538.59,530.34 L539.28,530.19 L539.97,530.04 L540.66,529.89 L541.36,529.74 L542.05,529.59 L542.74,529.44 L543.42,529.29 L544.11,529.14 L544.80,528.99 L545.49,528.84 L546.18,528.68 L546.87,528.53 L547.56,528.37 L548.25,528.21 L548.93,528.05 L549.62,527.89 L550.31,527.73 L551.00,527.57 L551.68,527.41 L552.37,527.25 L553.06,527.09 L553.74,526.92 L554.43,526.76 L555.12,526.60 L555.80,526.43 L556.49,526.27 L557.18,526.10 L557.86,525.94 L558.55,525.77 L559.24,525.60 L559.92,525.44 L560.61,525.27 L561.30,525.11 L561.98,524.94 L562.67,524.78 L563.36,524.61 L564.04,524.45 L564.73,524.29 L565.42,524.12 L566.10,523.96 L566.79,523.80 L567.48,523.63 L568.16,523.47 L568.85,523.31 L569.54,523.16 L570.23,523.00 L570.92,522.84 L571.61,522.68 L572.29,522.53 L572.98,522.37 L573.67,522.22 L574.36,522.06 L575.05,521.90 L575.74,521.74 L576.43,521.59 L577.11,521.43 L577.80,521.27 L578.49,521.11 L579.18,520.94 L579.86,520.78 L580.55,520.61 L581.23,520.44 L581.92,520.27 L582.60,520.10 L583.29,519.93 L583.97,519.75 L584.65,519.57 L585.33,519.39 L586.02,519.21 L586.70,519.03 L587.38,518.84 L588.06,518.65 L588.74,518.47 L589.42,518.28 L590.10,518.08 L590.78,517.89 L591.46,517.70 L592.14,517.50 L592.81,517.30 L593.49,517.11 L594.17,516.91 L594.85,516.71 L595.52,516.50 L596.20,516.30" stroke="#0a0a0a" stroke-width="1.12" fill="none" stroke-linejoin="round"/>
<path d="M350.80,440.30 L351.42,440.96 L352.04,441.61 L352.65,442.27 L353.27,442.93 L353.88,443.59 L354.50,444.25 L355.11,444.91 L355.72,445.57 L356.34,446.24 L356.95,446.90 L357.56,447.56 L358.17,448.23 L358.78,448.89 L359.39,449.56 L359.99,450.22 L360.60,450.89 L361.21,451.56 L361.81,452.23 L362.42,452.90 L363.02,453.57 L363.63,454.24 L364.23,454.91 L364.83,455.58 L365.43,456.25 L366.03,456.92 L366.63,457.60 L367.23,458.27 L367.82,458.95 L368.42,459.63 L369.01,460.30 L369.60,460.99 L370.19,461.67 L370.78,462.35 L371.37,463.03 L371.96,463.71 L372.55,464.40 L373.14,465.08 L373.73,465.76 L374.32,466.45 L374.90,467.13 L375.49,467.82 L376.08,468.50 L376.67,469.18 L377.26,469.86 L377.85,470.54 L378.45,471.22 L379.04,471.90 L379.63,472.58 L380.22,473.27 L380.83,473.93 L381.50,474.53 L382.19,475.11 L382.88,475.70 L383.57,476.28 L384.26,476.86 L384.95,477.44 L385.64,478.02 L386.33,478.60 L387.03,479.17 L387.72,479.75 L388.41,480.33 L389.11,480.90 L389.80,481.48 L390.49,482.06 L391.18,482.64 L391.87,483.22 L392.56,483.80 L393.26,484.37 L393.95,484.95 L394.64,485.53 L395.33,486.11 L396.02,486.69 L396.72,487.27 L397.41,487.85 L398.10,488.42 L398.79,489.00 L399.48,489.58 L400.17,490.16 L400.87,490.74 L401.56,491.32 L402.25,491.90 L402.94,492.48 L403.63,493.05 L404.32,493.63 L405.01,494.21 L405.70,494.79 L406.39,495.38 L407.08,495.97 L407.76,496.55 L408.45,497.14 L409.14,497.73 L409.82,498.31 L410.52,498.88 L411.21,499.46 L411.92,500.02 L412.62,500.57 L413.34,501.12 L414.05,501.67 L414.77,502.21 L415.50,502.75 L416.22,503.28 L416.95,503.81 L417.68,504.34 L418.42,504.86 L419.15,505.38 L419.89,505.90 L420.63,506.42 L421.37,506.93 L422.11,507.45 L422.85,507.96 L423.60,508.48 L424.34,508.99 L425.08,509.50 L425.83,510.01 L426.57,510.53 L427.31,511.04 L428.05,511.56 L428.79,512.08 L429.53,512.60 L430.26,513.12 L431.00,513.64 L431.73,514.17 L432.45,514.71 L433.18,515.25 L433.91,515.78 L434.64,516.31 L435.38,516.82 L436.13,517.32 L436.89,517.80 L437.65,518.28 L438.41,518.76 L439.18,519.23 L439.95,519.69 L440.72,520.15 L441.50,520.61 L442.28,521.06 L443.06,521.51 L443.85,521.96 L444.64,522.40 L445.43,522.84 L446.22,523.27 L447.01,523.70 L447.81,524.13 L448.61,524.56 L449.40,524.98 L450.20,525.41 L451.00,525.83 L451.80,526.24 L452.61,526.66 L453.41,527.07 L454.21,527.49 L455.01,527.90 L455.81,528.31 L456.62,528.71 L457.43,529.11 L458.24,529.50 L459.06,529.89 L459.87,530.28 L460.69,530.66 L461.50,531.05 L462.31,531.44 L463.12,531.84 L463.94,532.23 L464.76,532.60 L465.59,532.94 L466.43,533.27 L467.27,533.60 L468.11,533.92 L468.96,534.23 L469.81,534.53 L470.67,534.83 L471.52,535.12 L472.38,535.40 L473.24,535.67 L474.10,535.93 L474.97,536.19 L475.83,536.44 L476.70,536.68 L477.57,536.91 L478.45,537.14 L479.32,537.36 L480.20,537.57 L481.08,537.77 L481.96,537.96 L482.84,538.15 L483.72,538.35 L484.61,538.54 L485.49,538.72 L486.38,538.89 L487.27,539.04 L488.16,539.18 L489.05,539.28 L489.95,539.37 L490.84,539.46 L491.74,539.55 L492.64,539.63 L493.54,539.71 L494.44,539.78 L495.34,539.84 L496.24,539.90 L497.15,539.94 L498.05,539.97 L498.95,539.99 L499.85,540.00 L500.75,540.00 L501.65,539.98 L502.55,539.96 L503.45,539.94 L504.36,539.91 L505.26,539.87 L506.16,539.83 L507.06,539.79 L507.96,539.75 L508.86,539.70 L509.76,539.66 L510.67,539.61 L511.57,539.56 L512.47,539.51 L513.36,539.44 L514.26,539.38 L515.16,539.30 L516.06,539.23 L516.96,539.16 L517.86,539.09 L518.76,539.02 L519.66,538.95 L520.56,538.87 L521.46,538.80 L522.35,538.72 L523.25,538.65 L524.15,538.57 L525.05,538.50 L525.95,538.42 L526.85,538.34 L527.75,538.26 L528.64,538.18 L529.54,538.09 L530.44,538.01 L531.34,537.93 L532.24,537.85 L533.13,537.76 L534.03,537.68 L534.93,537.61 L535.83,537.53 L536.73,537.44 L537.63,537.36 L538.52,537.29 L539.42,537.22 L540.32,537.17 L541.22,537.13 L542.13,537.09 L543.03,537.06 L543.93,537.02 L544.83,536.99 L545.73,536.95 L546.63,536.90 L547.53,536.84 L548.43,536.78 L549.33,536.72 L550.23,536.65 L551.13,536.57 L552.03,536.49 L552.93,536.41 L553.83,536.32 L554.73,536.23 L555.63,536.13 L556.52,536.02 L557.42,535.92 L558.31,535.80 L559.20,535.68 L560.09,535.56 L560.98,535.42 L561.87,535.26 L562.75,535.09 L563.64,534.91 L564.52,534.71 L565.41,534.50 L566.28,534.28 L567.15,534.05 L568.02,533.81 L568.88,533.56 L569.73,533.27 L570.58,532.96 L571.42,532.63 L572.26,532.29 L573.09,531.95 L573.94,531.61 L574.78,531.30 L575.63,530.98 L576.47,530.67 L577.32,530.36 L578.16,530.05 L579.01,529.74 L579.86,529.43 L580.71,529.12 L581.55,528.81 L582.40,528.51 L583.25,528.20 L584.10,527.90 L584.59,527.65 L585.08,527.43 L585.58,527.24 L586.09,527.07 L586.60,526.94 L587.11,526.84 L587.64,526.77 L588.18,526.72 L588.69,526.71 L589.17,526.91 L589.62,527.25 L590.02,527.59 L590.40,527.97 L590.74,528.39 L591.05,528.81 L591.36,529.24 L591.66,529.69 L591.94,530.15 L592.21,530.62 L592.46,531.10 L592.69,531.58 L592.89,532.07 L593.05,532.55 L593.20,533.05 L593.34,533.55 L593.48,534.06 L593.61,534.58 L593.73,535.10 L593.84,535.62 L593.95,536.15 L594.05,536.68 L594.14,537.21 L594.22,537.74 L594.29,538.27 L594.35,538.80 L594.40,539.33 L594.45,539.85 L594.49,540.38 L594.53,540.90 L594.57,541.43 L594.61,541.96 L594.65,542.48 L594.68,543.01 L594.71,543.54 L594.75,544.07 L594.77,544.60 L594.80,545.13 L594.83,545.66 L594.85,546.19 L594.88,546.72 L594.90,547.25 L594.93,547.78 L594.95,548.31 L594.97,548.84 L594.99,549.37 L595.01,549.90 L595.03,550.44 L595.05,550.97 L595.07,551.50 L595.09,552.03 L595.11,552.56 L595.13,553.10 L595.14,553.63 L595.16,554.16 L595.19,554.69 L595.21,555.22 L595.23,555.76 L595.25,556.29 L595.27,556.82 L595.30,557.35 L595.32,557.88 L595.35,558.41 L595.38,558.94 L595.41,559.47 L595.44,560.00 L595.47,560.53 L595.50,561.06 L595.54,561.59 L595.58,562.12 L595.61,562.65 L595.65,563.18 L595.69,563.71 L595.73,564.24 L595.78,564.77 L595.82,565.30 L595.86,565.83 L595.91,566.36 L595.96,566.88 L596.00,567.41 L596.05,567.94 L596.10,568.47 L596.15,569.00 L596.20,569.53 L596.25,570.06 L596.30,570.59 L596.35,571.11 L596.40,571.64 L596.45,572.17 L596.50,572.70" stroke="#0000ff" stroke-width="1.15" fill="none" stroke-linejoin="round" stroke-dasharray="21.9 7.0" stroke-dashoffset="0"/>
<text transform="translate(63.70 322.30) scale(0.947 1)" text-anchor="end" fill="#000" font-family="Liberation Sans, sans-serif" font-size="15.8" stroke="#000" stroke-width="0.22">4</text>
<text transform="translate(63.70 252.73) scale(0.947 1)" text-anchor="end" fill="#000" font-family="Liberation Sans, sans-serif" font-size="15.8" stroke="#000" stroke-width="0.22">5</text>
<text transform="translate(63.70 183.15) scale(0.947 1)" text-anchor="end" fill="#000" font-family="Liberation Sans, sans-serif" font-size="15.8" stroke="#000" stroke-width="0.22">6</text>
<text transform="translate(63.70 113.57) scale(0.947 1)" text-anchor="end" fill="#000" font-family="Liberation Sans, sans-serif" font-size="15.8" stroke="#000" stroke-width="0.22">7</text>
<text transform="translate(63.70 44.00) scale(0.947 1)" text-anchor="end" fill="#000" font-family="Liberation Sans, sans-serif" font-size="15.8" stroke="#000" stroke-width="0.22">8</text>
<text transform="translate(63.70 558.86) scale(0.947 1)" text-anchor="end" fill="#000" font-family="Liberation Sans, sans-serif" font-size="15.8" stroke="#000" stroke-width="0.22">10</text>
<text transform="translate(63.70 474.37) scale(0.947 1)" text-anchor="end" fill="#000" font-family="Liberation Sans, sans-serif" font-size="15.8" stroke="#000" stroke-width="0.22">20</text>
<text transform="translate(63.70 389.89) scale(0.947 1)" text-anchor="end" fill="#000" font-family="Liberation Sans, sans-serif" font-size="15.8" stroke="#000" stroke-width="0.22">30</text>
<text transform="translate(64.00 616.90) scale(0.947 1)" text-anchor="start" fill="#000" font-family="Liberation Sans, sans-serif" font-size="15.8" stroke="#000" stroke-width="0.22">-3</text>
<text transform="translate(132.85 616.90) scale(0.947 1)" text-anchor="start" fill="#000" font-family="Liberation Sans, sans-serif" font-size="15.8" stroke="#000" stroke-width="0.22">-2.5</text>
<text transform="translate(218.58 616.90) scale(0.947 1)" text-anchor="start" fill="#000" font-family="Liberation Sans, sans-serif" font-size="15.8" stroke="#000" stroke-width="0.22">-2</text>
<text transform="translate(287.43 616.90) scale(0.947 1)" text-anchor="start" fill="#000" font-family="Liberation Sans, sans-serif" font-size="15.8" stroke="#000" stroke-width="0.22">-1.5</text>
<text transform="translate(342.25 616.90) scale(0.947 1)" text-anchor="start" fill="#000" font-family="Liberation Sans, sans-serif" font-size="15.8" stroke="#000" stroke-width="0.22">-3</text>
<text transform="translate(411.10 616.90) scale(0.947 1)" text-anchor="start" fill="#000" font-family="Liberation Sans, sans-serif" font-size="15.8" stroke="#000" stroke-width="0.22">-2.5</text>
<text transform="translate(496.83 616.90) scale(0.947 1)" text-anchor="start" fill="#000" font-family="Liberation Sans, sans-serif" font-size="15.8" stroke="#000" stroke-width="0.22">-2</text>
<text transform="translate(565.68 616.90) scale(0.947 1)" text-anchor="start" fill="#000" font-family="Liberation Sans, sans-serif" font-size="15.8" stroke="#000" stroke-width="0.22">-1.5</text>
<text transform="translate(168.40 639.50) scale(0.963 1)" text-anchor="start" fill="#000" font-family="Liberation Sans, sans-serif" font-size="15.8" stroke="#000" stroke-width="0.22">log r (pc)</text>
<text transform="translate(446.65 639.50) scale(0.963 1)" text-anchor="start" fill="#000" font-family="Liberation Sans, sans-serif" font-size="15.8" stroke="#000" stroke-width="0.22">log r (pc)</text>
<text transform="translate(88.00 70.90) scale(1.08 1)" text-anchor="start" fill="#000" font-family="Liberation Serif, serif" font-size="15.8" stroke="#000" stroke-width="0.2">a</text>
<text transform="translate(97.90 70.90) scale(1.0 1)" text-anchor="start" fill="#000" font-family="Liberation Serif, serif" font-size="15.8" stroke="#000" stroke-width="0.2">)</text>
<text transform="translate(367.20 70.90) scale(1.08 1)" text-anchor="start" fill="#000" font-family="Liberation Serif, serif" font-size="15.8" stroke="#000" stroke-width="0.2">b</text>
<text transform="translate(377.10 70.90) scale(1.0 1)" text-anchor="start" fill="#000" font-family="Liberation Serif, serif" font-size="15.8" stroke="#000" stroke-width="0.2">)</text>
<text transform="translate(88.40 339.70) scale(1.08 1)" text-anchor="start" fill="#000" font-family="Liberation Serif, serif" font-size="15.8" stroke="#000" stroke-width="0.2">c</text>
<text transform="translate(98.30 339.70) scale(1.0 1)" text-anchor="start" fill="#000" font-family="Liberation Serif, serif" font-size="15.8" stroke="#000" stroke-width="0.2">)</text>
<text transform="translate(367.00 339.70) scale(1.08 1)" text-anchor="start" fill="#000" font-family="Liberation Serif, serif" font-size="15.8" stroke="#000" stroke-width="0.2">d</text>
<text transform="translate(376.90 339.70) scale(1.0 1)" text-anchor="start" fill="#000" font-family="Liberation Serif, serif" font-size="15.8" stroke="#000" stroke-width="0.2">)</text>
<text transform="translate(149.40 71.20) scale(0.967 1)" text-anchor="start" fill="#000" font-family="Liberation Sans, sans-serif" font-size="15.8" stroke="#000" stroke-width="0.22">L43E</text>
<text transform="translate(427.80 71.20) scale(0.957 1)" text-anchor="start" fill="#000" font-family="Liberation Sans, sans-serif" font-size="15.8" stroke="#000" stroke-width="0.22">RNO91</text>
<text transform="translate(149.60 349.00) scale(0.94 1)" text-anchor="start" fill="#000" font-family="Liberation Sans, sans-serif" font-size="16.0" stroke="#000" stroke-width="0.22">L43E</text>
<text transform="translate(149.60 365.10) scale(0.95 1)" text-anchor="start" fill="#0000ff" font-family="Liberation Sans, sans-serif" font-size="16.0" stroke="#0000ff" stroke-width="0.22">ISRF x 5</text>
<g fill="#0000ff" stroke="#0000ff" stroke-width="0.2">
<text x="149.40" y="383.00" font-family="Liberation Serif, serif" font-size="16.8" textLength="9.4" lengthAdjust="spacingAndGlyphs">A</text>
<text x="158.50" y="386.50" font-family="Liberation Sans, sans-serif" font-weight="bold" stroke="none" font-size="8.8" textLength="21.4" lengthAdjust="spacingAndGlyphs">v,ext</text>
<text x="188.00" y="383.00" font-family="Liberation Serif, serif" font-size="16.8" textLength="10.0" lengthAdjust="spacingAndGlyphs">=</text>
<text x="207.00" y="383.00" font-family="Liberation Serif, serif" font-size="16.8" textLength="22.2" lengthAdjust="spacingAndGlyphs">1.0</text>
<text x="236.40" y="383.00" font-family="Liberation Serif, serif" font-size="16.8" textLength="31.0" lengthAdjust="spacingAndGlyphs">mag</text>
</g>
<text transform="translate(149.60 407.20) scale(0.95 1)" text-anchor="start" fill="#ff0000" font-family="Liberation Sans, sans-serif" font-size="16.0" stroke="#ff0000" stroke-width="0.22">ISRF x 4</text>
<g fill="#ff0000" stroke="#ff0000" stroke-width="0.2">
<text x="149.40" y="424.90" font-family="Liberation Serif, serif" font-size="16.8" textLength="9.4" lengthAdjust="spacingAndGlyphs">A</text>
<text x="158.50" y="428.40" font-family="Liberation Sans, sans-serif" font-weight="bold" stroke="none" font-size="8.8" textLength="21.4" lengthAdjust="spacingAndGlyphs">v,ext</text>
<text x="188.00" y="424.90" font-family="Liberation Serif, serif" font-size="16.8" textLength="10.0" lengthAdjust="spacingAndGlyphs">=</text>
<text x="207.00" y="424.90" font-family="Liberation Serif, serif" font-size="16.8" textLength="22.2" lengthAdjust="spacingAndGlyphs">0.5</text>
<text x="236.40" y="424.90" font-family="Liberation Serif, serif" font-size="16.8" textLength="31.0" lengthAdjust="spacingAndGlyphs">mag</text>
</g>
<text transform="translate(149.60 449.40) scale(0.95 1)" text-anchor="start" fill="#00ff00" font-family="Liberation Sans, sans-serif" font-size="16.0" stroke="#00ff00" stroke-width="0.22">ISRF x 6</text>
<g fill="#00ff00" stroke="#00ff00" stroke-width="0.2">
<text x="149.40" y="467.50" font-family="Liberation Serif, serif" font-size="16.8" textLength="9.4" lengthAdjust="spacingAndGlyphs">A</text>
<text x="158.50" y="471.00" font-family="Liberation Sans, sans-serif" font-weight="bold" stroke="none" font-size="8.8" textLength="21.4" lengthAdjust="spacingAndGlyphs">v,ext</text>
<text x="188.00" y="467.50" font-family="Liberation Serif, serif" font-size="16.8" textLength="10.0" lengthAdjust="spacingAndGlyphs">=</text>
<text x="207.00" y="467.50" font-family="Liberation Serif, serif" font-size="16.8" textLength="22.2" lengthAdjust="spacingAndGlyphs">1.5</text>
<text x="236.40" y="467.50" font-family="Liberation Serif, serif" font-size="16.8" textLength="31.0" lengthAdjust="spacingAndGlyphs">mag</text>
</g>
<text transform="translate(427.60 348.60) scale(0.94 1)" text-anchor="start" fill="#000" font-family="Liberation Sans, sans-serif" font-size="16.0" stroke="#000" stroke-width="0.22">RNO91</text>
<text transform="translate(427.80 364.90) scale(0.95 1)" text-anchor="start" fill="#0000ff" font-family="Liberation Sans, sans-serif" font-size="16.0" stroke="#0000ff" stroke-width="0.22">ISRF x 5</text>
<g fill="#0000ff" stroke="#0000ff" stroke-width="0.2">
<text x="427.60" y="382.90" font-family="Liberation Serif, serif" font-size="16.8" textLength="9.4" lengthAdjust="spacingAndGlyphs">A</text>
<text x="436.70" y="386.40" font-family="Liberation Sans, sans-serif" font-weight="bold" stroke="none" font-size="8.8" textLength="21.4" lengthAdjust="spacingAndGlyphs">v,ext</text>
<text x="466.20" y="382.90" font-family="Liberation Serif, serif" font-size="16.8" textLength="10.0" lengthAdjust="spacingAndGlyphs">=</text>
<text x="485.20" y="382.90" font-family="Liberation Serif, serif" font-size="16.8" textLength="22.2" lengthAdjust="spacingAndGlyphs">1.0</text>
<text x="514.60" y="382.90" font-family="Liberation Serif, serif" font-size="16.8" textLength="31.0" lengthAdjust="spacingAndGlyphs">mag</text>
</g>
<g transform="translate(23.0,222.2) rotate(-90)" fill="#000" stroke="#000" stroke-width="0.2" font-family="Liberation Serif, serif" font-size="16">
<text x="0" y="0" textLength="21" lengthAdjust="spacingAndGlyphs">log</text>
<text x="30.0" y="0">n</text>
<text x="46.1" y="0" textLength="29.4" lengthAdjust="spacingAndGlyphs">(cm</text>
<text x="76.2" y="-3.3" font-size="10.5" textLength="10.4" lengthAdjust="spacingAndGlyphs">−3</text>
<text x="88.4" y="0">)</text>
</g>
<g transform="translate(22.9,472.6) rotate(-90)" fill="#000" stroke="#000" stroke-width="0.2" font-family="Liberation Serif, serif" font-size="16">
<text x="0" y="0" textLength="8.2" lengthAdjust="spacingAndGlyphs">T</text>
<text x="16.4" y="0">(</text>
<text x="22.6" y="0" textLength="9.6" lengthAdjust="spacingAndGlyphs">K</text>
<text x="31.9" y="0">)</text>
</g>
</svg>
</body></html>
